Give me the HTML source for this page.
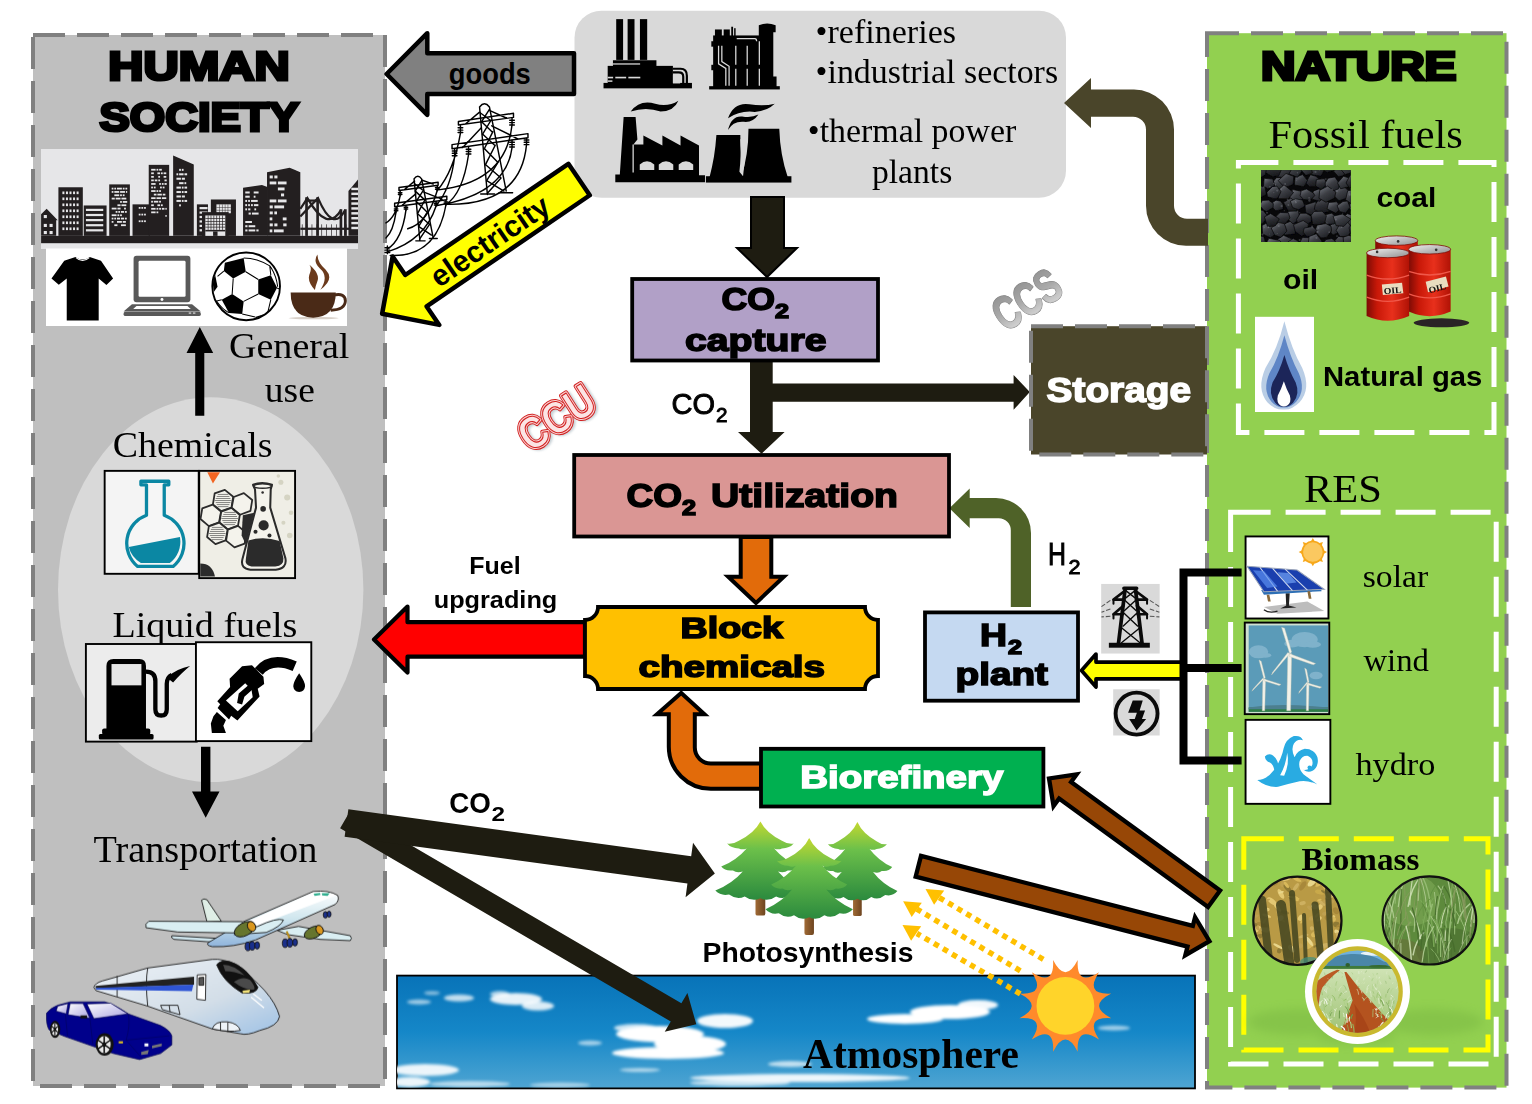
<!DOCTYPE html>
<html lang="en">
<head>
<meta charset="utf-8">
<title>CO2 capture, storage and utilization cycle</title>
<style>
html,body{margin:0;padding:0;background:#fff;}
body{width:1532px;height:1104px;overflow:hidden;position:relative;}
svg{position:absolute;left:0;top:0;display:block;}
.serif{font-family:"Liberation Serif",serif;}
.sans{font-family:"Liberation Sans",sans-serif;}
.blk{font-family:"Liberation Sans",sans-serif;font-weight:bold;stroke-linejoin:round;}
.cal{font-family:"Liberation Sans",sans-serif;font-weight:bold;}
</style>
</head>
<body>
<svg width="1532" height="1104" viewBox="0 0 1532 1104">
<rect x="0" y="0" width="1532" height="1104" fill="#ffffff"/>
<!-- ===== big panels ===== -->
<g id="panels">
<rect x="33" y="35" width="352" height="1051" fill="#bfbfbf" stroke="#808080" stroke-width="4" stroke-dasharray="32 12"/>
<ellipse cx="210.700" cy="589.700" rx="152.700" ry="192.400" fill="#d9d9d9"/>
<rect x="1207" y="33.200" width="299.500" height="1054.400" fill="#92d050" stroke="#808080" stroke-width="4" stroke-dasharray="32 12"/>
<rect x="574.500" y="10.700" width="491.500" height="187" rx="27" ry="27" fill="#d9d9d9"/>
<!-- white dashed frames in nature -->
<rect x="1238.400" y="162.600" width="255.600" height="269.800" fill="none" stroke="#ffffff" stroke-width="5" stroke-dasharray="40 15"/>
<rect x="1230.600" y="512.300" width="265.600" height="551.700" fill="none" stroke="#ffffff" stroke-width="5" stroke-dasharray="40 15"/>
<rect x="1243.800" y="838.700" width="244.200" height="211.300" fill="none" stroke="#ffff00" stroke-width="5" stroke-dasharray="40 15"/>
</g>
<!-- ===== arrows ===== -->
<g id="arrows">
<!-- goods arrow -->
<path d="M574 53.300 H427.300 V33.200 L386.600 74 L427.300 114.800 V93.900 H574 Z" fill="#808080" stroke="#000" stroke-width="4.500" stroke-linejoin="round"/>
<text class="cal" x="448.800" y="84.300" font-size="30" textLength="82" lengthAdjust="spacingAndGlyphs" fill="#000">goods</text>
<!-- fossil fuels S arrow -->
<path d="M1208 218.800 H1187 A13 13 0 0 1 1174 205.800 V129.600 A40 40 0 0 0 1134 89.600 H1091 V78 L1064 103 L1091 128 V116.700 H1133 A13 13 0 0 1 1146 129.700 V205.800 A40 40 0 0 0 1186 245.800 H1208 Z" fill="#4a452a"/>
<!-- industry -> capture -->
<path d="M751 197 H784 V248 H797 L767 277 L737 248 H751 Z" fill="#1e1c11" stroke="#000" stroke-width="2"/>
<!-- capture -> utilization + storage -->
<path d="M750 361 H772.700 V383.400 H1013.600 V375 L1029.800 392 L1013.600 409.800 V401.800 H772.700 V432 H784.600 L761.500 453.800 L738 432 H750 Z" fill="#1e1c11"/>
<!-- utilization -> block chemicals -->
<path d="M740.700 537 V576.800 H728.200 L756 603 L783.800 576.800 H771.300 V537 Z" fill="#e26b0a" stroke="#000" stroke-width="4" stroke-linejoin="miter"/>
<!-- red arrow -->
<path d="M585 622.200 H407.500 V606.500 L374 639.500 L407.500 672.500 V656.700 H585 Z" fill="#ff0000" stroke="#000" stroke-width="4.200" stroke-linejoin="round"/>
<!-- green H2 arrow -->
<path d="M1010.800 607 V530.300 A12 12 0 0 0 998.800 518.300 H969.700 V528 L949.400 508.200 L969.700 488.400 V498 H996 A35 35 0 0 1 1031 533 V607 Z" fill="#4f6228"/>
<!-- yellow RES arrow -->
<path d="M1183 662.100 H1096 V654 L1081.500 670.500 L1096 687 V678.900 H1183 Z" fill="#ffff00" stroke="#000" stroke-width="3.700" stroke-linejoin="round"/>
<!-- bracket -->
<path d="M1241.600 572.400 H1183.500 V760.500 H1241.600 M1183.500 668.100 H1241.600" fill="none" stroke="#000" stroke-width="8"/>
<!-- biorefinery -> block chemicals -->
<path d="M761 763.600 H710.800 A16 16 0 0 1 694.800 747.600 V714.300 H704.500 L681.200 693 L657 714.300 H668.800 V746.800 A42 42 0 0 0 710.800 788.800 H761 Z" fill="#e26b0a" stroke="#000" stroke-width="4" stroke-linejoin="miter"/>
</g>
<!-- ===== electricity arrow + pylons ===== -->
<g id="pylons" transform="translate(370,20) scale(0.28986)" fill="none" stroke="#000" stroke-width="5" stroke-linecap="round" stroke-linejoin="round">
<!-- big pylon -->
<path d="M378 300 Q395 278 412 300 L470 590 M378 300 L405 602 M382 600 H430 M445 596 H492"/>
<path d="M380 320 L414 345 M412 308 L384 352 M386 352 L420 385 M418 345 L388 395 M390 395 L430 432 M424 385 L394 445 M396 445 L440 490 M432 432 L398 500 M400 500 L452 545 M442 490 L402 555 M404 555 L462 590 M452 545 L405 598"/>
<path d="M305 350 L495 322 M305 362 L495 336 M305 350 V362 M495 322 V336 M330 358 L378 318 M470 338 L412 312 M283 430 L545 392 M283 444 L545 406 M283 430 V444 M545 392 V406 M320 440 L384 372 M510 410 L420 365"/>
<path d="M312 365 V388 M304 372 H320 M304 380 H320 M304 388 H320 M490 338 V360 M482 346 H498 M482 354 H498 M482 362 H498 M292 446 V470 M284 452 H300 M284 460 H300 M284 468 H300 M340 440 V462 M332 446 H348 M332 454 H348 M332 462 H348 M490 415 V438 M482 422 H498 M482 430 H498 M482 438 H498 M540 408 V430 M532 414 H548 M532 422 H548 M532 430 H548"/>
<!-- small pylon -->
<path d="M152 548 Q165 530 178 548 L218 752 M152 548 L172 760 M158 762 H190 M205 754 H232"/>
<path d="M154 565 L180 585 M178 555 L156 590 M158 592 L186 618 M184 588 L160 625 M162 628 L194 660 M190 620 L164 668 M166 670 L202 702 M198 662 L168 712 M170 714 L212 742 M206 704 L171 756"/>
<path d="M100 578 L235 560 M100 588 L235 570 M100 578 V588 M235 560 V570 M85 632 L265 608 M85 644 L265 620 M85 632 V644 M265 608 V620 M120 584 L154 556 M218 566 L178 552 M110 640 L158 600 M248 618 L186 594"/>
<path d="M104 590 V606 M98 596 H110 M98 602 H110 M232 572 V588 M226 578 H238 M226 584 H238 M90 646 V662 M84 652 H96 M84 658 H96 M124 640 V656 M118 646 H130 M118 652 H130 M228 626 V642 M222 632 H234 M222 638 H234 M262 622 V638 M256 628 H268 M256 634 H268"/>
<!-- wires -->
<path d="M312 390 Q290 520 232 588 M292 470 Q280 580 228 640 M340 464 Q320 600 262 636 M490 362 Q470 560 236 586 M490 440 Q470 600 232 640 M540 430 Q520 640 264 636"/>
<path d="M104 606 Q90 680 55 700 M90 662 Q80 730 55 752 M124 656 Q110 760 60 790 M228 642 Q190 760 60 800 M262 638 Q230 820 70 812 M232 588 Q200 700 130 720"/>
<path d="M60 780 V806 M52 786 H68 M52 794 H68 M52 802 H68"/>
</g>
<g transform="translate(580.900,178.300) rotate(145.730)">
<path d="M2.200 -19 H199.600 V-41.400 L240.500 0 L199.600 41.400 V19 H2.200 Z" fill="#ffff00" stroke="#000" stroke-width="4.500" stroke-linejoin="round"/>
</g>
<g transform="translate(491.700,243.800) rotate(-34.270)">
<text class="cal" x="0" y="7" font-size="30" text-anchor="middle" textLength="137" lengthAdjust="spacingAndGlyphs" fill="#000">electricity</text>
</g>
<!-- ===== atmosphere, CO2 arrows, brown arrows ===== -->
<defs>
<linearGradient id="sky" x1="0" x2="0" y1="0" y2="1"><stop offset="0" stop-color="#0873b8"/><stop offset="0.500" stop-color="#1587c8"/><stop offset="1" stop-color="#4fa5d2"/></linearGradient>
<filter id="blur3" x="-20%" y="-50%" width="140%" height="200%"><feGaussianBlur stdDeviation="1.800"/></filter>
<filter id="blur6" x="-20%" y="-50%" width="140%" height="200%"><feGaussianBlur stdDeviation="5"/></filter>
<clipPath id="skyclip"><rect x="397" y="975.500" width="798" height="112.500"/></clipPath>
</defs>
<rect x="397" y="975.600" width="798" height="112.800" fill="url(#sky)" stroke="#000" stroke-width="1.800"/>
<g clip-path="url(#skyclip)" fill="#ffffff" filter="url(#blur3)">
<ellipse cx="419" cy="1002" rx="12" ry="2.500" opacity="0.600"/>
<ellipse cx="459" cy="998" rx="15" ry="3.500" opacity="0.750"/>
<ellipse cx="432" cy="993" rx="8" ry="2" opacity="0.500"/>
<ellipse cx="516" cy="999" rx="26" ry="6" opacity="0.900"/>
<ellipse cx="538" cy="1006" rx="16" ry="4.500" opacity="0.850"/>
<ellipse cx="500" cy="994" rx="10" ry="3" opacity="0.700"/>
<ellipse cx="725" cy="1021" rx="28" ry="7" opacity="0.950"/>
<ellipse cx="660" cy="1034" rx="44" ry="8"/>
<ellipse cx="690" cy="1044" rx="36" ry="8"/>
<ellipse cx="668" cy="1053" rx="56" ry="6"/>
<ellipse cx="636" cy="1028" rx="22" ry="4" opacity="0.800"/>
<ellipse cx="590" cy="1043" rx="12" ry="2.500" opacity="0.600"/>
<ellipse cx="905" cy="1019" rx="38" ry="5"/>
<ellipse cx="950" cy="1012" rx="40" ry="7"/>
<ellipse cx="978" cy="1005" rx="20" ry="5" opacity="0.950"/>
<ellipse cx="425" cy="1070" rx="34" ry="6" opacity="0.900"/>
<ellipse cx="410" cy="1082" rx="20" ry="5" opacity="0.900"/>
<ellipse cx="470" cy="1084" rx="40" ry="3" opacity="0.600"/>
<ellipse cx="800" cy="1078" rx="110" ry="4" opacity="0.900"/>
<ellipse cx="740" cy="1083" rx="50" ry="3" opacity="0.700"/>
<ellipse cx="790" cy="1064" rx="22" ry="3" opacity="0.700"/>
<ellipse cx="640" cy="1070" rx="20" ry="2" opacity="0.600"/>
<ellipse cx="1114" cy="1028" rx="16" ry="2.500" opacity="0.600"/>
<ellipse cx="560" cy="1085" rx="30" ry="2.500" opacity="0.500"/>
</g>
<!-- CO2 arrows from transportation -->
<g fill="#1e1c11">
<g transform="translate(345.400,819.100) rotate(30.300)"><path d="M0 -10.500 H383 V-22.500 L406.400 0 L383 22.500 V10.500 H0 Z"/></g>
<g transform="translate(346.500,823) rotate(7.790)"><path d="M0 -13.800 H346 V-27.500 L371.800 0 L346 27.500 V13.800 H0 Z"/></g>
</g>
<text class="cal" x="449.200" y="813.100" font-size="30" textLength="41.600" lengthAdjust="spacingAndGlyphs" fill="#000">CO</text>
<text class="cal" x="491.500" y="821" font-size="20" textLength="13.500" lengthAdjust="spacingAndGlyphs" fill="#000">2</text>
<!-- brown arrows -->
<g fill="#974706" stroke="#000" stroke-width="4.300" stroke-linejoin="miter">
<g transform="translate(1215.700,900) rotate(-143.900)"><path d="M2 -10.200 H186.400 V-19.600 L206.300 0 L186.400 19.600 V10.200 H2 Z"/></g>
<g transform="translate(916.400,865.800) rotate(14.430)"><path d="M2 -10.700 H282.700 V-19.600 L302.600 0 L282.700 19.600 V10.700 H2 Z"/></g>
</g>
<!-- ===== process boxes ===== -->
<g id="boxes" stroke="#000" stroke-width="3.8">
<rect x="632.200" y="279" width="245.800" height="81.500" fill="#b1a0c7"/>
<rect x="574.200" y="455" width="374.800" height="81.500" fill="#da9694"/>
<path d="M598 607 H865 A13 13 0 0 0 878 620 V676 A13 13 0 0 0 865 689 H598 A13 13 0 0 0 585 676 V620 A13 13 0 0 0 598 607 Z" fill="#ffc000"/>
<rect x="925" y="612.400" width="153" height="88.300" fill="#c5d9f1"/>
<rect x="761" y="748.800" width="282.400" height="57.700" fill="#00b050"/>
</g>
<rect x="1031" y="326.200" width="176" height="128.300" fill="#4a452a" stroke="#808080" stroke-width="4" stroke-dasharray="32 12"/>
<g id="boxtext" class="blk" fill="#000" stroke="#000" stroke-width="1.600" style="stroke-linejoin:miter;stroke-miterlimit:3">
<text x="721.600" y="310.400" font-size="32" textLength="53.500" lengthAdjust="spacingAndGlyphs">CO</text>
<text x="775" y="318" font-size="21" textLength="14" lengthAdjust="spacingAndGlyphs">2</text>
<text x="685" y="350.600" font-size="32" textLength="141.500" lengthAdjust="spacingAndGlyphs">capture</text>
<text x="626.600" y="507" font-size="33.500" textLength="55.500" lengthAdjust="spacingAndGlyphs">CO</text>
<text x="682" y="515" font-size="22" textLength="14" lengthAdjust="spacingAndGlyphs">2</text>
<text x="711" y="507" font-size="33.500" textLength="187" lengthAdjust="spacingAndGlyphs">Utilization</text>
<text x="680.500" y="638.200" font-size="29.500" textLength="102.500" lengthAdjust="spacingAndGlyphs">Block</text>
<text x="638.500" y="677.300" font-size="29.500" textLength="186.500" lengthAdjust="spacingAndGlyphs">chemicals</text>
<text x="980" y="646.300" font-size="32" textLength="27" lengthAdjust="spacingAndGlyphs">H</text>
<text x="1008" y="654" font-size="21" textLength="14" lengthAdjust="spacingAndGlyphs">2</text>
<text x="955.500" y="685" font-size="32" textLength="92.500" lengthAdjust="spacingAndGlyphs">plant</text>
</g>
<g class="blk" fill="#fff" stroke="#fff" stroke-width="1.500" style="stroke-linejoin:miter;stroke-miterlimit:3">
<text x="800.300" y="788" font-size="31" textLength="203" lengthAdjust="spacingAndGlyphs">Biorefinery</text>
<text x="1046.600" y="401.700" font-size="34.500" textLength="144.500" lengthAdjust="spacingAndGlyphs">Storage</text>
</g>
<!-- ===== city skyline ===== -->
<g id="city">
<rect x="41" y="149" width="317" height="100" fill="#e6e6e8"/>
<rect x="41.1" y="235.87" width="316.91" height="7.32" fill="#231f20"/>
<polygon points="41.1,214.35 46.64,208.8 57.74,220.34 56.19,220.34 56.19,235.87 41.1,235.87" fill="#231f20"/>
<rect x="43.76" y="215.01" width="3.11" height="3.11" fill="#e6e6e8"/>
<rect x="43.76" y="223.89" width="3.11" height="3.11" fill="#e6e6e8"/>
<rect x="49.53" y="223.89" width="3.11" height="3.11" fill="#e6e6e8"/>
<rect x="43.76" y="230.99" width="3.11" height="3.11" fill="#e6e6e8"/>
<rect x="49.53" y="230.99" width="3.11" height="3.11" fill="#e6e6e8"/>
<rect x="58.41" y="187.27" width="24.41" height="48.6" fill="#231f20"/>
<rect x="62.4" y="191.49" width="2.0" height="2.66" fill="#e6e6e8"/>
<rect x="65.95" y="191.49" width="2.0" height="2.66" fill="#e6e6e8"/>
<rect x="69.5" y="191.49" width="2.0" height="2.66" fill="#e6e6e8"/>
<rect x="73.05" y="191.49" width="2.0" height="2.66" fill="#e6e6e8"/>
<rect x="76.6" y="191.49" width="2.0" height="2.66" fill="#e6e6e8"/>
<rect x="62.4" y="197.48" width="2.0" height="2.66" fill="#e6e6e8"/>
<rect x="65.95" y="197.48" width="2.0" height="2.66" fill="#e6e6e8"/>
<rect x="69.5" y="197.48" width="2.0" height="2.66" fill="#e6e6e8"/>
<rect x="73.05" y="197.48" width="2.0" height="2.66" fill="#e6e6e8"/>
<rect x="76.6" y="197.48" width="2.0" height="2.66" fill="#e6e6e8"/>
<rect x="62.4" y="203.47" width="2.0" height="2.66" fill="#e6e6e8"/>
<rect x="65.95" y="203.47" width="2.0" height="2.66" fill="#e6e6e8"/>
<rect x="69.5" y="203.47" width="2.0" height="2.66" fill="#e6e6e8"/>
<rect x="73.05" y="203.47" width="2.0" height="2.66" fill="#e6e6e8"/>
<rect x="76.6" y="203.47" width="2.0" height="2.66" fill="#e6e6e8"/>
<rect x="62.4" y="209.46" width="2.0" height="2.66" fill="#e6e6e8"/>
<rect x="65.95" y="209.46" width="2.0" height="2.66" fill="#e6e6e8"/>
<rect x="69.5" y="209.46" width="2.0" height="2.66" fill="#e6e6e8"/>
<rect x="73.05" y="209.46" width="2.0" height="2.66" fill="#e6e6e8"/>
<rect x="76.6" y="209.46" width="2.0" height="2.66" fill="#e6e6e8"/>
<rect x="62.4" y="215.45" width="2.0" height="2.66" fill="#e6e6e8"/>
<rect x="65.95" y="215.45" width="2.0" height="2.66" fill="#e6e6e8"/>
<rect x="69.5" y="215.45" width="2.0" height="2.66" fill="#e6e6e8"/>
<rect x="73.05" y="215.45" width="2.0" height="2.66" fill="#e6e6e8"/>
<rect x="76.6" y="215.45" width="2.0" height="2.66" fill="#e6e6e8"/>
<rect x="62.4" y="221.45" width="2.0" height="2.66" fill="#e6e6e8"/>
<rect x="65.95" y="221.45" width="2.0" height="2.66" fill="#e6e6e8"/>
<rect x="69.5" y="221.45" width="2.0" height="2.66" fill="#e6e6e8"/>
<rect x="73.05" y="221.45" width="2.0" height="2.66" fill="#e6e6e8"/>
<rect x="76.6" y="221.45" width="2.0" height="2.66" fill="#e6e6e8"/>
<rect x="62.4" y="227.44" width="2.0" height="2.66" fill="#e6e6e8"/>
<rect x="65.95" y="227.44" width="2.0" height="2.66" fill="#e6e6e8"/>
<rect x="69.5" y="227.44" width="2.0" height="2.66" fill="#e6e6e8"/>
<rect x="73.05" y="227.44" width="2.0" height="2.66" fill="#e6e6e8"/>
<rect x="76.6" y="227.44" width="2.0" height="2.66" fill="#e6e6e8"/>
<rect x="83.71" y="205.47" width="22.86" height="30.4" fill="#231f20"/>
<rect x="85.93" y="208.8" width="17.31" height="2.22" fill="#e6e6e8"/>
<rect x="85.93" y="213.9" width="17.31" height="2.22" fill="#e6e6e8"/>
<rect x="85.93" y="219.01" width="17.31" height="2.22" fill="#e6e6e8"/>
<rect x="85.93" y="224.11" width="17.31" height="2.22" fill="#e6e6e8"/>
<rect x="85.93" y="229.21" width="17.31" height="2.22" fill="#e6e6e8"/>
<rect x="109.23" y="184.39" width="20.64" height="51.49" fill="#231f20"/>
<rect x="111.67" y="187.71" width="1.78" height="1.78" fill="#e6e6e8"/>
<rect x="114.33" y="187.71" width="1.78" height="1.78" fill="#e6e6e8"/>
<rect x="117.0" y="187.71" width="4.88" height="1.78" fill="#e6e6e8"/>
<rect x="122.77" y="187.71" width="1.78" height="1.78" fill="#e6e6e8"/>
<rect x="125.43" y="187.71" width="1.78" height="1.78" fill="#e6e6e8"/>
<rect x="111.67" y="191.04" width="1.78" height="1.78" fill="#e6e6e8"/>
<rect x="114.33" y="191.04" width="4.88" height="1.78" fill="#e6e6e8"/>
<rect x="120.1" y="191.04" width="4.88" height="1.78" fill="#e6e6e8"/>
<rect x="125.87" y="191.04" width="1.33" height="1.78" fill="#e6e6e8"/>
<rect x="114.33" y="194.37" width="4.88" height="1.78" fill="#e6e6e8"/>
<rect x="120.1" y="194.37" width="1.78" height="1.78" fill="#e6e6e8"/>
<rect x="122.77" y="194.37" width="1.78" height="1.78" fill="#e6e6e8"/>
<rect x="111.67" y="197.7" width="3.11" height="1.78" fill="#e6e6e8"/>
<rect x="115.66" y="197.7" width="4.88" height="1.78" fill="#e6e6e8"/>
<rect x="121.43" y="197.7" width="4.88" height="1.78" fill="#e6e6e8"/>
<rect x="120.1" y="201.03" width="1.78" height="1.78" fill="#e6e6e8"/>
<rect x="122.77" y="201.03" width="4.44" height="1.78" fill="#e6e6e8"/>
<rect x="117.44" y="204.36" width="3.11" height="1.78" fill="#e6e6e8"/>
<rect x="121.43" y="204.36" width="4.88" height="1.78" fill="#e6e6e8"/>
<rect x="111.67" y="207.69" width="4.88" height="1.78" fill="#e6e6e8"/>
<rect x="117.44" y="207.69" width="3.11" height="1.78" fill="#e6e6e8"/>
<rect x="124.1" y="207.69" width="1.78" height="1.78" fill="#e6e6e8"/>
<rect x="115.66" y="211.02" width="1.78" height="1.78" fill="#e6e6e8"/>
<rect x="118.33" y="211.02" width="1.78" height="1.78" fill="#e6e6e8"/>
<rect x="120.99" y="211.02" width="3.11" height="1.78" fill="#e6e6e8"/>
<rect x="124.98" y="211.02" width="1.78" height="1.78" fill="#e6e6e8"/>
<rect x="111.67" y="214.35" width="4.88" height="1.78" fill="#e6e6e8"/>
<rect x="117.44" y="214.35" width="1.78" height="1.78" fill="#e6e6e8"/>
<rect x="120.1" y="214.35" width="1.78" height="1.78" fill="#e6e6e8"/>
<rect x="111.67" y="217.67" width="1.78" height="1.78" fill="#e6e6e8"/>
<rect x="114.33" y="217.67" width="1.78" height="1.78" fill="#e6e6e8"/>
<rect x="117.0" y="217.67" width="3.11" height="1.78" fill="#e6e6e8"/>
<rect x="120.99" y="217.67" width="3.11" height="1.78" fill="#e6e6e8"/>
<rect x="124.98" y="217.67" width="1.78" height="1.78" fill="#e6e6e8"/>
<rect x="111.67" y="221.0" width="1.78" height="1.78" fill="#e6e6e8"/>
<rect x="117.0" y="221.0" width="4.88" height="1.78" fill="#e6e6e8"/>
<rect x="122.77" y="221.0" width="3.11" height="1.78" fill="#e6e6e8"/>
<rect x="114.33" y="224.33" width="3.11" height="1.78" fill="#e6e6e8"/>
<rect x="120.99" y="224.33" width="4.88" height="1.78" fill="#e6e6e8"/>
<rect x="132.53" y="204.36" width="17.31" height="31.51" fill="#231f20"/>
<rect x="138.74" y="207.02" width="1.78" height="1.78" fill="#e6e6e8"/>
<rect x="141.41" y="207.02" width="1.78" height="1.78" fill="#e6e6e8"/>
<rect x="144.07" y="207.02" width="1.78" height="1.78" fill="#e6e6e8"/>
<rect x="138.74" y="213.68" width="1.78" height="1.78" fill="#e6e6e8"/>
<rect x="141.41" y="213.68" width="1.78" height="1.78" fill="#e6e6e8"/>
<rect x="144.07" y="213.68" width="1.78" height="1.78" fill="#e6e6e8"/>
<rect x="138.74" y="220.34" width="1.78" height="1.78" fill="#e6e6e8"/>
<rect x="141.41" y="220.34" width="1.78" height="1.78" fill="#e6e6e8"/>
<rect x="144.07" y="220.34" width="1.78" height="1.78" fill="#e6e6e8"/>
<rect x="148.73" y="164.86" width="20.42" height="71.02" fill="#231f20"/>
<rect x="151.17" y="168.85" width="4.44" height="1.78" fill="#e6e6e8"/>
<rect x="156.5" y="168.85" width="1.78" height="1.78" fill="#e6e6e8"/>
<rect x="159.16" y="168.85" width="2.66" height="1.78" fill="#e6e6e8"/>
<rect x="151.17" y="172.4" width="2.66" height="1.78" fill="#e6e6e8"/>
<rect x="157.39" y="172.4" width="2.66" height="1.78" fill="#e6e6e8"/>
<rect x="160.94" y="172.4" width="1.78" height="1.78" fill="#e6e6e8"/>
<rect x="163.6" y="172.4" width="2.66" height="1.78" fill="#e6e6e8"/>
<rect x="151.17" y="175.95" width="2.66" height="1.78" fill="#e6e6e8"/>
<rect x="158.27" y="175.95" width="1.78" height="1.78" fill="#e6e6e8"/>
<rect x="163.6" y="175.95" width="2.66" height="1.78" fill="#e6e6e8"/>
<rect x="151.17" y="179.5" width="2.66" height="1.78" fill="#e6e6e8"/>
<rect x="154.72" y="179.5" width="2.66" height="1.78" fill="#e6e6e8"/>
<rect x="158.27" y="179.5" width="1.78" height="1.78" fill="#e6e6e8"/>
<rect x="164.49" y="179.5" width="2.22" height="1.78" fill="#e6e6e8"/>
<rect x="151.17" y="183.05" width="4.44" height="1.78" fill="#e6e6e8"/>
<rect x="159.16" y="183.05" width="1.78" height="1.78" fill="#e6e6e8"/>
<rect x="161.82" y="183.05" width="1.78" height="1.78" fill="#e6e6e8"/>
<rect x="164.49" y="183.05" width="2.22" height="1.78" fill="#e6e6e8"/>
<rect x="151.17" y="186.6" width="1.78" height="1.78" fill="#e6e6e8"/>
<rect x="153.83" y="186.6" width="1.78" height="1.78" fill="#e6e6e8"/>
<rect x="160.05" y="186.6" width="1.78" height="1.78" fill="#e6e6e8"/>
<rect x="162.71" y="186.6" width="1.78" height="1.78" fill="#e6e6e8"/>
<rect x="151.17" y="190.16" width="4.44" height="1.78" fill="#e6e6e8"/>
<rect x="156.5" y="190.16" width="1.78" height="1.78" fill="#e6e6e8"/>
<rect x="159.16" y="190.16" width="1.78" height="1.78" fill="#e6e6e8"/>
<rect x="153.83" y="193.71" width="2.66" height="1.78" fill="#e6e6e8"/>
<rect x="157.39" y="193.71" width="4.44" height="1.78" fill="#e6e6e8"/>
<rect x="162.71" y="193.71" width="2.66" height="1.78" fill="#e6e6e8"/>
<rect x="151.17" y="197.26" width="4.44" height="1.78" fill="#e6e6e8"/>
<rect x="156.5" y="197.26" width="4.44" height="1.78" fill="#e6e6e8"/>
<rect x="161.82" y="197.26" width="4.44" height="1.78" fill="#e6e6e8"/>
<rect x="151.17" y="200.81" width="1.78" height="1.78" fill="#e6e6e8"/>
<rect x="153.83" y="200.81" width="4.44" height="1.78" fill="#e6e6e8"/>
<rect x="159.16" y="200.81" width="1.78" height="1.78" fill="#e6e6e8"/>
<rect x="151.17" y="204.36" width="2.66" height="1.78" fill="#e6e6e8"/>
<rect x="157.39" y="204.36" width="2.66" height="1.78" fill="#e6e6e8"/>
<rect x="160.94" y="204.36" width="1.78" height="1.78" fill="#e6e6e8"/>
<rect x="151.17" y="207.91" width="4.44" height="1.78" fill="#e6e6e8"/>
<rect x="156.5" y="207.91" width="1.78" height="1.78" fill="#e6e6e8"/>
<rect x="159.16" y="207.91" width="1.78" height="1.78" fill="#e6e6e8"/>
<rect x="161.82" y="207.91" width="2.66" height="1.78" fill="#e6e6e8"/>
<rect x="165.38" y="207.91" width="1.33" height="1.78" fill="#e6e6e8"/>
<rect x="151.17" y="211.46" width="4.44" height="1.78" fill="#e6e6e8"/>
<rect x="156.5" y="211.46" width="1.78" height="1.78" fill="#e6e6e8"/>
<rect x="165.38" y="215.01" width="1.33" height="1.78" fill="#e6e6e8"/>
<polygon points="173.14,155.53 193.78,164.41 193.78,235.87 173.14,235.87" fill="#231f20"/>
<rect x="179.13" y="168.85" width="1.78" height="2.0" fill="#e6e6e8"/>
<rect x="181.8" y="168.85" width="1.78" height="2.0" fill="#e6e6e8"/>
<rect x="176.47" y="173.29" width="1.78" height="2.0" fill="#e6e6e8"/>
<rect x="179.13" y="173.29" width="4.44" height="2.0" fill="#e6e6e8"/>
<rect x="184.46" y="173.29" width="2.66" height="2.0" fill="#e6e6e8"/>
<rect x="176.47" y="177.73" width="4.44" height="2.0" fill="#e6e6e8"/>
<rect x="181.8" y="177.73" width="3.11" height="2.0" fill="#e6e6e8"/>
<rect x="179.13" y="182.17" width="4.44" height="2.0" fill="#e6e6e8"/>
<rect x="184.46" y="182.17" width="1.78" height="2.0" fill="#e6e6e8"/>
<rect x="176.47" y="186.6" width="4.44" height="2.0" fill="#e6e6e8"/>
<rect x="181.8" y="186.6" width="1.78" height="2.0" fill="#e6e6e8"/>
<rect x="184.46" y="186.6" width="2.66" height="2.0" fill="#e6e6e8"/>
<rect x="176.47" y="191.04" width="4.44" height="2.0" fill="#e6e6e8"/>
<rect x="181.8" y="191.04" width="1.78" height="2.0" fill="#e6e6e8"/>
<rect x="184.46" y="191.04" width="2.66" height="2.0" fill="#e6e6e8"/>
<rect x="176.47" y="195.48" width="4.44" height="2.0" fill="#e6e6e8"/>
<rect x="181.8" y="195.48" width="3.11" height="2.0" fill="#e6e6e8"/>
<rect x="176.47" y="199.92" width="4.44" height="2.0" fill="#e6e6e8"/>
<rect x="181.8" y="199.92" width="1.78" height="2.0" fill="#e6e6e8"/>
<rect x="184.46" y="199.92" width="2.66" height="2.0" fill="#e6e6e8"/>
<rect x="179.13" y="204.36" width="1.78" height="2.0" fill="#e6e6e8"/>
<rect x="196.89" y="204.36" width="11.1" height="31.51" fill="#231f20"/>
<rect x="199.55" y="207.02" width="7.99" height="2.22" fill="#e6e6e8"/>
<rect x="199.55" y="211.46" width="7.99" height="2.22" fill="#e6e6e8"/>
<rect x="199.55" y="215.9" width="7.99" height="2.22" fill="#e6e6e8"/>
<rect x="199.55" y="220.34" width="7.99" height="2.22" fill="#e6e6e8"/>
<rect x="199.55" y="224.78" width="7.99" height="2.22" fill="#e6e6e8"/>
<rect x="199.55" y="229.21" width="7.99" height="2.22" fill="#e6e6e8"/>
<rect x="210.87" y="199.48" width="25.08" height="36.4" fill="#231f20"/>
<rect x="216.42" y="204.36" width="14.43" height="8.88" fill="#e6e6e8"/>
<rect x="219.08" y="204.36" width="0.44" height="8.88" fill="#231f20"/>
<rect x="221.97" y="204.36" width="0.44" height="8.88" fill="#231f20"/>
<rect x="224.85" y="204.36" width="0.44" height="8.88" fill="#231f20"/>
<rect x="227.74" y="204.36" width="0.44" height="8.88" fill="#231f20"/>
<rect x="216.42" y="207.02" width="14.43" height="0.44" fill="#231f20"/>
<rect x="216.42" y="209.91" width="14.43" height="0.44" fill="#231f20"/>
<rect x="201.99" y="212.13" width="26.63" height="23.75" fill="#231f20"/>
<rect x="205.32" y="215.45" width="19.97" height="20.42" fill="#e6e6e8"/>
<rect x="207.76" y="215.45" width="0.67" height="14.43" fill="#231f20"/>
<rect x="210.65" y="215.45" width="0.67" height="14.43" fill="#231f20"/>
<rect x="213.53" y="215.45" width="0.67" height="14.43" fill="#231f20"/>
<rect x="216.42" y="215.45" width="0.67" height="14.43" fill="#231f20"/>
<rect x="219.3" y="215.45" width="0.67" height="14.43" fill="#231f20"/>
<rect x="222.19" y="215.45" width="0.67" height="14.43" fill="#231f20"/>
<rect x="205.32" y="218.12" width="19.97" height="0.67" fill="#231f20"/>
<rect x="205.32" y="221.0" width="19.97" height="0.67" fill="#231f20"/>
<rect x="205.32" y="223.89" width="19.97" height="0.67" fill="#231f20"/>
<rect x="205.32" y="226.77" width="19.97" height="0.67" fill="#231f20"/>
<rect x="205.32" y="229.88" width="19.97" height="1.55" fill="#231f20"/>
<rect x="213.09" y="231.43" width="4.44" height="4.44" fill="#231f20"/>
<polygon points="243.05,187.71 261.91,185.05 267.46,187.05 267.46,235.87 243.05,235.87" fill="#231f20"/>
<rect x="245.27" y="191.49" width="4.44" height="2.0" fill="#e6e6e8"/>
<rect x="253.7" y="191.49" width="4.88" height="2.0" fill="#e6e6e8"/>
<rect x="245.27" y="195.7" width="4.44" height="2.0" fill="#e6e6e8"/>
<rect x="253.7" y="195.7" width="1.78" height="2.0" fill="#e6e6e8"/>
<rect x="245.27" y="199.92" width="1.78" height="2.0" fill="#e6e6e8"/>
<rect x="248.15" y="199.92" width="1.78" height="2.0" fill="#e6e6e8"/>
<rect x="251.04" y="199.92" width="6.66" height="2.0" fill="#e6e6e8"/>
<rect x="245.27" y="204.14" width="1.78" height="2.0" fill="#e6e6e8"/>
<rect x="248.15" y="204.14" width="1.78" height="2.0" fill="#e6e6e8"/>
<rect x="251.04" y="204.14" width="1.78" height="2.0" fill="#e6e6e8"/>
<rect x="253.92" y="204.14" width="4.44" height="2.0" fill="#e6e6e8"/>
<rect x="245.27" y="208.35" width="1.78" height="2.0" fill="#e6e6e8"/>
<rect x="248.15" y="208.35" width="2.22" height="2.0" fill="#e6e6e8"/>
<rect x="254.37" y="208.35" width="1.78" height="2.0" fill="#e6e6e8"/>
<rect x="248.6" y="212.57" width="2.22" height="2.0" fill="#e6e6e8"/>
<rect x="251.93" y="212.57" width="6.66" height="2.0" fill="#e6e6e8"/>
<rect x="245.27" y="221.0" width="6.66" height="2.0" fill="#e6e6e8"/>
<rect x="245.27" y="225.22" width="2.22" height="2.0" fill="#e6e6e8"/>
<rect x="248.6" y="225.22" width="6.66" height="2.0" fill="#e6e6e8"/>
<rect x="245.27" y="229.44" width="2.22" height="2.0" fill="#e6e6e8"/>
<rect x="248.6" y="229.44" width="6.66" height="2.0" fill="#e6e6e8"/>
<rect x="256.36" y="229.44" width="2.22" height="2.0" fill="#e6e6e8"/>
<polygon points="267.02,172.18 289.65,167.74 300.31,172.18 300.31,235.87 267.02,235.87" fill="#231f20"/>
<rect x="269.68" y="175.51" width="3.11" height="2.89" fill="#e6e6e8"/>
<rect x="274.34" y="175.51" width="3.11" height="2.89" fill="#e6e6e8"/>
<rect x="269.68" y="181.5" width="6.66" height="2.89" fill="#e6e6e8"/>
<rect x="277.89" y="181.5" width="8.66" height="2.89" fill="#e6e6e8"/>
<rect x="277.89" y="187.49" width="6.66" height="2.89" fill="#e6e6e8"/>
<rect x="281.0" y="193.48" width="3.11" height="2.89" fill="#e6e6e8"/>
<rect x="269.68" y="199.48" width="6.66" height="2.89" fill="#e6e6e8"/>
<rect x="277.89" y="199.48" width="8.66" height="2.89" fill="#e6e6e8"/>
<rect x="269.68" y="205.47" width="3.11" height="2.89" fill="#e6e6e8"/>
<rect x="274.34" y="205.47" width="9.76" height="2.89" fill="#e6e6e8"/>
<rect x="269.68" y="211.46" width="3.11" height="2.89" fill="#e6e6e8"/>
<rect x="274.34" y="211.46" width="2.66" height="2.89" fill="#e6e6e8"/>
<rect x="269.68" y="217.45" width="2.66" height="2.89" fill="#e6e6e8"/>
<rect x="282.77" y="217.45" width="3.77" height="2.89" fill="#e6e6e8"/>
<rect x="269.68" y="223.44" width="3.11" height="2.89" fill="#e6e6e8"/>
<rect x="274.34" y="223.44" width="3.11" height="2.89" fill="#e6e6e8"/>
<rect x="283.22" y="223.44" width="3.33" height="2.89" fill="#e6e6e8"/>
<rect x="269.68" y="229.44" width="2.66" height="2.89" fill="#e6e6e8"/>
<rect x="273.9" y="229.44" width="9.76" height="2.89" fill="#e6e6e8"/>
<rect x="305.19" y="197.26" width="2.66" height="38.62" fill="#231f20"/>
<rect x="316.28" y="197.26" width="2.66" height="38.62" fill="#231f20"/>
<rect x="339.59" y="209.24" width="2.66" height="26.63" fill="#231f20"/>
<rect x="344.03" y="209.24" width="2.66" height="26.63" fill="#231f20"/>
<rect x="300.31" y="227.66" width="49.27" height="2.22" fill="#231f20"/>
<rect x="305.19" y="199.48" width="13.32" height="2.22" fill="#231f20"/>
<path d="M300.31 208.8 Q303.41 204.36 307.41 198.14 Q327.38 233.21 341.14 209.91" fill="none" stroke="#231f20" stroke-width="2.200"/>
<path d="M300.31 216.56 Q309.63 206.58 318.06 198.14 Q332.93 233.21 345.14 209.91" fill="none" stroke="#231f20" stroke-width="2.200"/>
<rect x="301.86" y="224.33" width="0.67" height="11.54" fill="#231f20"/>
<rect x="306.74" y="224.33" width="0.67" height="11.54" fill="#231f20"/>
<rect x="311.62" y="224.33" width="0.67" height="11.54" fill="#231f20"/>
<rect x="316.51" y="224.33" width="0.67" height="11.54" fill="#231f20"/>
<rect x="321.39" y="224.33" width="0.67" height="11.54" fill="#231f20"/>
<rect x="326.27" y="224.33" width="0.67" height="11.54" fill="#231f20"/>
<rect x="331.15" y="224.33" width="0.67" height="11.54" fill="#231f20"/>
<rect x="336.04" y="224.33" width="0.67" height="11.54" fill="#231f20"/>
<rect x="340.92" y="224.33" width="0.67" height="11.54" fill="#231f20"/>
<rect x="345.8" y="224.33" width="0.67" height="11.54" fill="#231f20"/>
<polygon points="348.46,191.04 358.01,179.5 358.01,235.87 348.46,235.87" fill="#231f20"/>
<rect x="351.35" y="187.71" width="6.66" height="2.44" fill="#e6e6e8"/>
<rect x="351.35" y="192.6" width="6.66" height="2.44" fill="#e6e6e8"/>
<rect x="351.35" y="197.48" width="6.66" height="2.44" fill="#e6e6e8"/>
<rect x="351.35" y="202.36" width="6.66" height="2.44" fill="#e6e6e8"/>
<rect x="351.35" y="207.24" width="6.66" height="2.44" fill="#e6e6e8"/>
<rect x="351.35" y="212.13" width="6.66" height="2.44" fill="#e6e6e8"/>
<rect x="351.35" y="217.01" width="6.66" height="2.44" fill="#e6e6e8"/>
<rect x="351.35" y="221.89" width="6.66" height="2.44" fill="#e6e6e8"/>
<rect x="351.35" y="226.77" width="6.66" height="2.44" fill="#e6e6e8"/>
</g>
<!-- ===== general use items row ===== -->
<rect x="46" y="248.500" width="301" height="77.500" fill="#ffffff"/>
<g id="items" transform="translate(40,245) scale(0.20888)">
<!-- t-shirt -->
<path d="M170 58 Q204 82 238 58 L292 76 L350 160 L318 192 L281 160 L281 362 L128 362 L128 160 L90 190 L55 160 L116 76 Z" fill="#000"/>
<path d="M172 60 Q204 88 236 60" fill="none" stroke="#fff" stroke-width="5"/>
<!-- laptop -->
<rect x="448" y="52" width="272" height="222" rx="14" fill="#595959"/>
<rect x="472" y="76" width="225" height="172" rx="6" fill="#fff"/>
<circle cx="584" cy="261" r="7" fill="#fff"/>
<path d="M440 284 H728 L770 318 H400 Z" fill="#595959"/>
<path d="M462 292 H706 L722 306 H446 Z" fill="#fff"/>
<rect x="400" y="320" width="370" height="20" rx="9" fill="#595959"/>
<rect x="712" y="322" width="12" height="8" fill="#bbb"/><rect x="732" y="322" width="12" height="8" fill="#bbb"/>
<!-- soccer ball -->
<clipPath id="ballclip2"><circle cx="987" cy="198" r="160"/></clipPath>
<circle cx="987" cy="198" r="162" fill="#fff" stroke="#000" stroke-width="9"/>
<g fill="#000" clip-path="url(#ballclip2)">
<polygon points="885,85 975,62 985,128 925,160 880,125"/>
<polygon points="1045,165 1105,145 1135,205 1105,262 1045,235"/>
<polygon points="870,262 920,235 975,270 968,330 905,325"/>
<polygon points="1030,345 1090,325 1100,338 1040,358"/>
<polygon points="826,170 838,140 850,200 832,225"/>
</g>
<clipPath id="ballclip"><circle cx="987" cy="198" r="160"/></clipPath>
<g fill="none" stroke="#000" stroke-width="5" clip-path="url(#ballclip)">
<path d="M985 128 L1045 165 M1045 235 L975 270 M925 160 L920 235 M975 62 Q1040 62 1100 100 L1105 145 M1135 205 Q1148 215 1150 200 M1105 262 L1090 325 M968 330 L1030 345 M905 325 Q870 305 845 268 L870 262 M880 125 L850 150 M1100 100 Q1130 140 1138 200"/>
</g>
<!-- coffee -->
<ellipse cx="1310" cy="350" rx="120" ry="6" fill="#d8d0c8"/>
<path d="M1200 228 H1416 Q1416 345 1308 348 Q1200 345 1200 228 Z" fill="#4a2a17"/>
<path d="M1405 240 Q1462 228 1462 268 Q1460 310 1392 312" fill="none" stroke="#4a2a17" stroke-width="14"/>
<path d="M1316 215 Q1275 170 1292 135 Q1302 112 1290 95 Q1345 140 1326 180 Q1318 200 1316 215 Z" fill="#6b3a1c"/>
<path d="M1342 214 Q1385 150 1340 112 Q1305 80 1328 46 Q1330 88 1368 118 Q1412 165 1342 214 Z" fill="#6b3a1c"/>
</g>
<!-- ===== left panel text + thin arrows ===== -->
<g class="blk" fill="#000" stroke="#000" stroke-width="3.200" style="stroke-linejoin:miter;stroke-miterlimit:3">
<text x="108.300" y="80.300" font-size="41.500" textLength="181.500" lengthAdjust="spacingAndGlyphs">HUMAN</text>
<text x="99.500" y="131.200" font-size="41.500" textLength="199.500" lengthAdjust="spacingAndGlyphs">SOCIETY</text>
</g>
<g class="serif" fill="#000" font-size="36.500">
<text x="229.000" y="358" textLength="120.400" lengthAdjust="spacingAndGlyphs">General</text>
<text x="264.800" y="401.600" textLength="50.000" lengthAdjust="spacingAndGlyphs">use</text>
<text x="112.700" y="457" textLength="159.900" lengthAdjust="spacingAndGlyphs">Chemicals</text>
<text x="112.400" y="636.900" textLength="185.000" lengthAdjust="spacingAndGlyphs">Liquid fuels</text>
<text x="93.400" y="861.800" font-size="38" textLength="224.000" lengthAdjust="spacingAndGlyphs">Transportation</text>
</g>
<path d="M195.200 415.800 V353 H186.500 L199.800 327 L213.200 353 H204.300 V415.800 Z" fill="#000"/>
<path d="M201 746.700 H210.400 V791.600 H219.500 L205.700 817.700 L192 791.600 H201 Z" fill="#000"/>
<!-- ===== chemicals images ===== -->
<g id="flasks" transform="translate(40,320) scale(0.25355)">
<rect x="255" y="595" width="371" height="406" fill="#f4f4f4" stroke="#000" stroke-width="7.500"/>
<rect x="628" y="595" width="378" height="423" fill="#efeee6" stroke="#000" stroke-width="7.500"/>
<!-- teal round flask -->
<path d="M398 636 H508 V650 H490 V770 A118 118 0 0 1 525 972 H385 A118 118 0 0 1 420 770 V650 H398 Z" fill="#f6f6f6" stroke="#0b87a3" stroke-width="13" stroke-linejoin="round"/>
<path d="M350 895 L552 856 A105 105 0 0 1 512 958 H398 A105 105 0 0 1 350 895 Z" fill="#0b87a3"/>
<!-- erlenmeyer + hexagons -->
<polygon points="660,600 710,600 682,645" fill="#f26522"/>
<g fill="#f4f3ec" stroke="#2b2b2b" stroke-width="7" stroke-linejoin="round">
<polygon points="755,740 715,754 682,727 689,684 729,670 762,697"/>
<polygon points="830,753 789,768 756,740 764,698 804,683 837,710"/>
<polygon points="706,798 666,813 633,785 640,743 681,728 714,756"/>
<polygon points="781,811 741,826 708,798 715,756 755,741 788,769"/>
<polygon points="732,869 692,884 659,856 666,814 707,799 740,827"/>
<polygon points="807,882 767,897 734,870 741,827 781,812 814,840"/>
</g>
<g stroke="#444" stroke-width="2.500">
<path d="M701 688 H743 M697 696 H747 M693 704 H751 M689 712 H755 M693 720 H751 M697 728 H747 M701 736 H743"/>
<path d="M727 759 H769 M723 767 H773 M719 775 H777 M715 783 H781 M719 791 H777 M723 799 H773 M727 807 H769"/>
<path d="M678 818 H720 M674 826 H724 M670 834 H728 M666 842 H732 M670 850 H728 M674 858 H724 M678 866 H720"/>
</g>
<path d="M800 770 L845 760 L812 885 L795 850 Z" fill="#2b2b2b"/>
<path d="M840 650 Q875 636 915 650 L910 668 L908 740 L968 940 Q975 980 930 985 H830 Q790 980 798 945 L852 740 L848 668 Z" fill="#f4f3ec" stroke="#2b2b2b" stroke-width="8" stroke-linejoin="round"/>
<path d="M822 870 Q880 850 945 872 L960 940 Q962 970 928 972 H834 Q806 968 812 942 Z" fill="#2b2b2b"/>
<ellipse cx="878" cy="655" rx="36" ry="9" fill="none" stroke="#2b2b2b" stroke-width="6"/>
<circle cx="880" cy="745" r="11" fill="#2b2b2b"/><circle cx="882" cy="810" r="20" fill="#2b2b2b"/><circle cx="850" cy="835" r="8" fill="#2b2b2b"/><circle cx="905" cy="850" r="8" fill="#2b2b2b"/><circle cx="878" cy="680" r="5" fill="#2b2b2b"/>
<path d="M632 960 Q680 960 690 1012 H632 Z" fill="#2b2b2b"/>
<g fill="#d5d4c3"><circle cx="950" cy="640" r="10"/><circle cx="975" cy="700" r="12"/><circle cx="990" cy="760" r="9"/><circle cx="960" cy="800" r="8"/><circle cx="985" cy="850" r="11"/><circle cx="940" cy="615" r="7"/></g>
</g>
<!-- ===== liquid fuel images ===== -->
<g id="pumps" transform="translate(40,590) scale(0.25355)">
<rect x="181" y="213" width="437" height="385" fill="#ececec" stroke="#000" stroke-width="7.500"/>
<rect x="615" y="206" width="455" height="390" fill="#ffffff" stroke="#000" stroke-width="7.500"/>
<!-- pump 1 -->
<path d="M262 300 Q262 272 290 272 H392 Q418 272 418 300 V548 H262 Z" fill="#000"/>
<rect x="282" y="292" width="118" height="84" fill="#e6e6e6"/>
<rect x="245" y="546" width="190" height="26" rx="8" fill="#000"/>
<rect x="232" y="568" width="216" height="22" rx="6" fill="#000"/>
<path d="M418 322 Q455 322 455 360 V470 Q455 495 478 495 Q500 495 500 470 V370 Q500 345 520 335" fill="none" stroke="#000" stroke-width="17"/>
<path d="M500 345 Q540 310 592 300 Q560 325 525 365 Z" fill="#000"/>
<!-- pump 2 nozzle -->
<g transform="translate(591.600,177.500) scale(0.41083)" fill="#000">
<path d="M660 350 Q780 205 1005 300" fill="none" stroke="#000" stroke-width="100"/>
<polygon points="380,420 500,300 595,290 705,400 712,470 650,515 668,590 455,820 395,775 375,810 265,700 290,665 262,635 385,500"/>
<polygon points="530,462 345,628 458,732 602,598 590,522" fill="#fff"/>
<polygon points="560,482 468,562 452,652 500,668 522,592 600,522"/>
<polygon points="258,740 345,815 320,870 345,940 210,940 200,850 225,780"/>
<path d="M1048 368 Q1108 455 1104 495 Q1098 545 1048 547 Q998 545 992 495 Q988 455 1048 368 Z"/>
</g>
</g>
<!-- ===== transportation vehicles ===== -->
<defs>
<linearGradient id="trainb" x1="0" x2="1" y1="0" y2="1"><stop offset="0" stop-color="#eef3f8"/><stop offset="0.600" stop-color="#d3dee8"/><stop offset="1" stop-color="#9fc2e6"/></linearGradient>
<linearGradient id="planeb" x1="0" x2="0" y1="0" y2="1"><stop offset="0" stop-color="#ffffff"/><stop offset="0.500" stop-color="#cfe6ee"/><stop offset="1" stop-color="#8fb4dc"/></linearGradient>
<linearGradient id="carw" x1="0" x2="1" y1="0" y2="1"><stop offset="0" stop-color="#ffffff"/><stop offset="1" stop-color="#a9a3e0"/></linearGradient>
</defs>
<g id="vehicles" transform="translate(40,870) scale(0.21541)" stroke-linejoin="round">
<!-- plane -->
<g stroke="#111" stroke-width="4">
<path d="M1100 280 L1200 262 L1440 305 Q1452 318 1440 328 L1300 322 L1150 300 Z" fill="#d9eef2"/>
<path d="M750 140 Q760 130 775 138 L842 238 L775 240 Z" fill="#dfeee6"/>
<path d="M612 305 L830 318 L822 336 L622 322 Q605 315 612 305 Z" fill="#cfe6ee"/>
<path d="M940 242 L1268 100 Q1340 92 1382 118 Q1392 140 1370 160 L1000 325 Q900 360 800 356 Q770 350 780 338 Z" fill="url(#planeb)"/>
<path d="M948 244 L1270 104 Q1330 96 1375 118 L1000 262 Z" fill="#ffffff" stroke="none"/>
<path d="M940 240 L505 238 Q485 250 492 268 L640 288 L905 292 L1010 262 Q1100 220 1130 232 Q1120 262 1050 290 L900 300" fill="#d9eef2"/>
<ellipse cx="950" cy="275" rx="52" ry="30" transform="rotate(-28 950 275)" fill="#66752e"/>
<ellipse cx="982" cy="262" rx="18" ry="24" transform="rotate(-28 982 262)" fill="#d9971e"/>
<ellipse cx="1270" cy="290" rx="46" ry="26" transform="rotate(-25 1270 290)" fill="#66752e"/>
<ellipse cx="1298" cy="278" rx="16" ry="22" transform="rotate(-25 1298 278)" fill="#d9971e"/>
<path d="M1145 285 L1160 320" stroke="#b58a1a" stroke-width="9"/>
<g fill="#1a2f8a"><ellipse cx="965" cy="355" rx="13" ry="20"/><ellipse cx="985" cy="352" rx="13" ry="20"/><ellipse cx="1008" cy="350" rx="11" ry="17"/><ellipse cx="1138" cy="340" rx="13" ry="20"/><ellipse cx="1160" cy="338" rx="13" ry="20"/><ellipse cx="1184" cy="336" rx="11" ry="17"/><ellipse cx="1325" cy="208" rx="10" ry="15"/><ellipse cx="1342" cy="205" rx="9" ry="14"/></g>
</g>
<path d="M1270 110 L1300 106 L1302 116 L1275 120 Z M1308 108 L1345 108 L1335 120 L1310 118 Z" fill="#2fae8e"/>
<!-- train -->
<g stroke="#111" stroke-width="4">
<path d="M250 545 Q255 525 290 515 L500 455 L800 415 Q850 410 900 440 Q1080 560 1112 680 Q1105 725 1020 745 Q960 770 930 760 L800 738 L500 632 L260 560 Z" fill="url(#trainb)"/>
<path d="M800 738 Q810 700 870 705 Q920 712 930 745 Q880 755 800 738 Z" fill="#eef3f8"/>
<path d="M838 708 V746 M872 706 V752" fill="none"/>
<path d="M358 492 L358 588 M500 455 Q488 520 500 632" fill="none"/>
<path d="M560 628 H640 L650 672 L568 648 Z M600 630 L604 660" fill="none"/>
<path d="M730 487 L770 485 L768 605 L728 600 Z" fill="#ffffff"/>
<path d="M738 500 L760 498 L760 535 L738 535 Z" fill="#555"/>
<path d="M820 440 Q840 415 880 425 Q960 450 1012 545 Q1005 575 940 572 Q850 520 820 440 Z" fill="#111"/>
</g>
<path d="M850 440 Q900 440 950 490 Q900 470 860 470 Z M900 520 Q940 490 975 510 Q1000 540 995 555 Q950 560 900 520 Z" fill="#4a4a4a"/>
<path d="M940 560 L975 556 L972 570 L942 572 Z" fill="#f2e27a"/>
<path d="M258 538 L715 495 L715 532 L258 550 Z" fill="#222"/>
<path d="M258 548 L712 532 L705 562 L262 556 Z" fill="#2f55d4"/>
<path d="M980 590 L1040 640 M990 575 L1030 605" stroke="#ffffff" stroke-width="6" fill="none"/>
<!-- car -->
<g stroke="#00004d" stroke-width="3">
<path d="M30 665 Q50 640 82 628 L140 612 L300 612 Q340 620 410 668 L560 722 Q605 745 612 770 L612 812 L560 852 L462 880 L340 852 L112 772 L42 742 Q28 720 30 665 Z" fill="#00008b"/>
<path d="M218 622 L328 618 L408 668 L250 690 Z" fill="url(#carw)"/>
<path d="M140 620 L200 620 L232 688 L130 672 Z" fill="url(#carw)"/>
<path d="M82 632 L130 620 L122 668 L75 655 Z" fill="url(#carw)"/>
<path d="M118 672 L128 772 M232 690 L245 808 M410 668 Q420 720 400 790 L470 870 M400 790 L600 770" fill="none" stroke="#000060"/>
</g>
<rect x="188" y="675" width="30" height="14" fill="#111"/>
<ellipse cx="300" cy="810" rx="42" ry="52" fill="#111"/><ellipse cx="298" cy="810" rx="30" ry="40" fill="#e8e8e8"/><ellipse cx="298" cy="810" rx="9" ry="12" fill="#111"/>
<path d="M298 770 V850 M270 790 L326 830 M270 830 L326 790" stroke="#111" stroke-width="7"/>
<ellipse cx="70" cy="740" rx="24" ry="40" fill="#111"/><ellipse cx="69" cy="740" rx="15" ry="29" fill="#e8e8e8"/><ellipse cx="69" cy="740" rx="5" ry="9" fill="#111"/>
<path d="M69 712 V768 M56 726 L82 754 M56 754 L82 726" stroke="#111" stroke-width="5"/>
<rect x="365" y="795" width="20" height="10" fill="#e0c020"/><rect x="485" y="805" width="18" height="14" fill="#ffffff"/><path d="M520 815 L565 805 L565 818 L520 828 Z" fill="#777"/><path d="M470 845 L505 835 L500 855 L470 858 Z" fill="#777"/>
</g>
<!-- ===== industry icons + bullet text ===== -->
<g id="industry" transform="translate(570,5) scale(0.18119)" fill="#000">
<!-- factory with three chimneys -->
<rect x="255" y="78" width="38" height="225"/><rect x="318" y="78" width="38" height="225"/><rect x="386" y="78" width="40" height="225"/>
<rect x="237" y="305" width="240" height="36"/>
<rect x="208" y="336" width="360" height="104"/>
<rect x="185" y="430" width="488" height="30"/>
<path d="M568 352 H610 Q645 352 645 390 V432 M568 372 H600 Q625 372 625 396 V432" fill="none" stroke="#000" stroke-width="12"/>
<rect x="568" y="385" width="40" height="48" fill="#d9d9d9"/>
<g fill="#d9d9d9"><rect x="237" y="322" width="150" height="7"/><rect x="208" y="396" width="30" height="9"/><rect x="250" y="396" width="60" height="9"/><rect x="322" y="396" width="66" height="9"/><rect x="208" y="416" width="26" height="8"/></g>
<!-- refinery -->
<rect x="790" y="168" width="255" height="290"/>
<rect x="800" y="135" width="38" height="40"/><rect x="848" y="135" width="34" height="40"/><rect x="890" y="120" width="10" height="60"/><rect x="906" y="128" width="8" height="50"/>
<path d="M1042 112 Q1088 92 1135 112 V150 H1122 V395 H1140 V458 H1042 Z"/>
<rect x="768" y="448" width="390" height="18"/>
<rect x="780" y="200" width="14" height="30"/><rect x="780" y="330" width="14" height="30"/>
<g fill="none" stroke="#d9d9d9" stroke-width="7"><path d="M820 225 V325 L860 350 V445 M838 225 V312 L878 338 V445 M915 225 V330 M915 352 V445 M978 225 V330 M978 352 V445 M1045 200 V330 M1045 352 V445 M920 185 H1020 Q1030 185 1030 200"/></g>
<!-- factory with smoke -->
<path d="M296 618 H362 L372 742 L350 770 H405 V720 L510 775 V720 L610 775 V720 L712 775 V940 H745 V978 H250 V935 H275 Z"/>
<path d="M335 588 Q385 520 470 545 Q540 565 598 528 Q575 585 500 588 Q420 560 335 588 Z"/>
<g fill="#d9d9d9"><path d="M385 910 V880 Q425 845 465 880 V910 Z"/><path d="M490 910 V880 Q530 845 570 880 V910 Z"/><path d="M600 910 V880 Q640 845 680 880 V910 Z"/><path d="M345 770 L352 770 L352 925 L345 925 Z"/></g>
<!-- cooling towers -->
<path d="M808 718 H940 Q940 840 962 950 H770 Q800 840 808 718 Z"/>
<path d="M985 683 H1155 Q1160 830 1202 950 H945 Q985 830 985 683 Z"/>
<path d="M940 740 Q945 840 935 920 L955 945 L975 760 Z" fill="#d9d9d9"/>
<rect x="750" y="945" width="472" height="35"/>
<path d="M872 625 Q905 535 990 548 Q1070 560 1130 545 Q1090 585 1020 590 Q940 580 872 625 Z"/>
<path d="M872 690 Q890 610 950 615 Q1000 625 1040 605 Q1010 650 960 645 Q900 640 872 690 Z"/>
</g>
<g class="serif" fill="#000" font-size="33">
<text x="815.600" y="43.400" textLength="140.400" lengthAdjust="spacingAndGlyphs">•refineries</text>
<text x="815.600" y="83" textLength="242.500" lengthAdjust="spacingAndGlyphs">•industrial sectors</text>
<text x="807.800" y="142.200" textLength="208.400" lengthAdjust="spacingAndGlyphs">•thermal power</text>
<text x="871.900" y="182.900" textLength="80.400" lengthAdjust="spacingAndGlyphs">plants</text>
</g>
<!-- ===== nature: titles and fossil fuels ===== -->
<g class="blk" fill="#000" stroke="#000" stroke-width="3.200" style="stroke-linejoin:miter;stroke-miterlimit:3">
<text x="1261" y="80.300" font-size="40" textLength="195.500" lengthAdjust="spacingAndGlyphs">NATURE</text>
</g>
<g class="serif" fill="#000">
<text x="1268.400" y="148" font-size="41" textLength="194.400" lengthAdjust="spacingAndGlyphs">Fossil fuels</text>
<text x="1304.000" y="502" font-size="41" textLength="78.000" lengthAdjust="spacingAndGlyphs">RES</text>
</g>
<g class="sans" font-weight="bold" fill="#000" font-size="28.300">
<text x="1376.400" y="206.500" textLength="59.800" lengthAdjust="spacingAndGlyphs">coal</text>
<text x="1283.000" y="289.200" textLength="35.200" lengthAdjust="spacingAndGlyphs">oil</text>
<text x="1323.000" y="386.400" textLength="159.300" lengthAdjust="spacingAndGlyphs">Natural gas</text>
</g>
<!-- gas flame -->
<rect x="1255" y="316.800" width="59" height="95.200" fill="#ffffff"/>
<g transform="translate(1230,150) scale(0.26267)">
<path d="M207 652 Q235 760 275 830 Q310 910 265 960 Q235 990 205 988 Q170 990 142 960 Q100 910 135 830 Q180 760 207 652 Z" fill="#b9cde5"/>
<path d="M207 705 Q230 790 262 850 Q290 915 252 958 Q230 982 205 980 Q180 982 158 958 Q122 915 150 850 Q185 790 207 705 Z" fill="#5f86c6"/>
<path d="M207 780 Q225 840 250 885 Q268 930 240 962 Q225 978 205 977 Q186 978 172 962 Q145 930 162 885 Q190 840 207 780 Z" fill="#1c2559"/>
<path d="M205 880 Q215 910 228 935 Q235 962 218 973 Q205 980 192 973 Q176 962 182 935 Q195 910 205 880 Z" fill="#ffffff"/>
</g>
<!-- oil barrels -->
<g transform="translate(1230,150) scale(0.26267)">
<defs>
<linearGradient id="bar" x1="0" x2="1" y1="0" y2="0"><stop offset="0" stop-color="#7d0b05"/><stop offset="0.250" stop-color="#c81808"/><stop offset="0.600" stop-color="#e8301c"/><stop offset="1" stop-color="#b01205"/></linearGradient>
<linearGradient id="lid" x1="0" x2="1" y1="0" y2="1"><stop offset="0" stop-color="#f2f2f2"/><stop offset="1" stop-color="#8e8e8e"/></linearGradient>
</defs>
<ellipse cx="805" cy="658" rx="106" ry="17" fill="#2a2426"/>
<path d="M553 345 V420 H715 V345 Z" fill="url(#bar)"/><ellipse cx="634" cy="345" rx="81" ry="18" fill="url(#lid)" stroke="#7d0b05" stroke-width="3"/>
<path d="M680 378 V615 Q760 650 840 615 V378 Z" fill="url(#bar)"/><ellipse cx="760" cy="378" rx="80" ry="18" fill="url(#lid)" stroke="#7d0b05" stroke-width="3"/>
<path d="M680 462 Q760 490 840 462 M680 548 Q760 578 840 548" fill="none" stroke="#f0584a" stroke-width="5"/>
<path d="M520 392 V632 Q600 668 682 632 V392 Z" fill="url(#bar)"/><ellipse cx="601" cy="392" rx="81" ry="18" fill="url(#lid)" stroke="#7d0b05" stroke-width="3"/>
<path d="M520 476 Q600 506 682 476 M520 560 Q600 592 682 560" fill="none" stroke="#f0584a" stroke-width="5"/>
<polygon points="578,512 655,505 660,545 582,552" fill="#e9dcc0"/>
<polygon points="745,502 822,482 832,520 754,542" fill="#e9dcc0"/>
<text x="585" y="546" font-size="34" font-weight="bold" font-family="Liberation Serif, serif" fill="#111" textLength="68" lengthAdjust="spacingAndGlyphs" transform="rotate(-5 618 530)">OIL</text>
<text x="752" y="538" font-size="34" font-weight="bold" font-family="Liberation Serif, serif" fill="#111" textLength="68" lengthAdjust="spacingAndGlyphs" transform="rotate(-15 788 515)">OIL</text>
<circle cx="640" cy="348" r="5" fill="#333"/><circle cx="785" cy="380" r="5" fill="#333"/><circle cx="560" cy="388" r="5" fill="#333"/>
</g>
<!-- ===== coal texture ===== -->
<g id="coal">
<defs><linearGradient id="lump" x1="0.1" y1="0" x2="0.8" y2="1"><stop offset="0" stop-color="#74777f"/><stop offset="0.45" stop-color="#3c3e44"/><stop offset="1" stop-color="#1c1d21"/></linearGradient>
<linearGradient id="lump2" x1="0.3" y1="0" x2="0.6" y2="1"><stop offset="0" stop-color="#54565d"/><stop offset="0.5" stop-color="#2c2d32"/><stop offset="1" stop-color="#17181b"/></linearGradient>
<filter id="blurc" x="-5%" y="-5%" width="110%" height="110%"><feGaussianBlur stdDeviation="0.45"/></filter>
<clipPath id="coalclip"><rect x="1261" y="170.2" width="89.8" height="71.8"/></clipPath></defs>
<rect x="1261" y="170.2" width="89.8" height="71.8" fill="#08080a"/>
<g clip-path="url(#coalclip)"><g filter="url(#blurc)">
<polygon points="1305.7,212.8 1304.9,205.0 1315.4,201.8 1319.2,207.7 1314.5,216.1" fill="url(#lump2)" stroke="#050506" stroke-width="0.7" stroke-linejoin="round"/>
<polygon points="1296.0,224.9 1295.3,234.1 1285.1,235.1 1280.1,230.5 1283.1,224.4 1291.8,220.7" fill="url(#lump)" stroke="#050506" stroke-width="0.7" stroke-linejoin="round"/>
<polygon points="1283.0,204.4 1283.3,209.3 1275.7,210.9 1272.7,207.5 1271.9,203.0 1276.0,200.2 1280.8,201.2" fill="url(#lump)" stroke="#050506" stroke-width="0.7" stroke-linejoin="round"/>
<polygon points="1293.0,223.9 1285.9,217.6 1288.2,211.2 1298.5,210.0 1299.7,219.2" fill="url(#lump)" stroke="#050506" stroke-width="0.7" stroke-linejoin="round"/>
<polygon points="1259.3,185.3 1265.2,187.8 1266.4,194.4 1260.2,198.1 1254.4,197.0 1252.6,190.2" fill="url(#lump2)" stroke="#050506" stroke-width="0.7" stroke-linejoin="round"/>
<polygon points="1321.1,176.3 1309.1,174.2 1305.9,167.8 1315.8,162.1 1324.9,168.5" fill="url(#lump)" stroke="#050506" stroke-width="0.7" stroke-linejoin="round"/>
<polygon points="1292.9,189.6 1301.3,191.2 1305.0,197.9 1293.3,203.8 1288.8,195.6" fill="url(#lump)" stroke="#050506" stroke-width="0.7" stroke-linejoin="round"/>
<polygon points="1338.6,236.3 1347.0,237.6 1349.2,245.3 1342.6,249.7 1336.1,249.0 1334.1,241.4" fill="url(#lump2)" stroke="#050506" stroke-width="0.7" stroke-linejoin="round"/>
<polygon points="1254.9,223.3 1250.8,216.3 1253.3,209.1 1263.2,210.4 1267.2,215.4 1266.0,219.2 1262.3,223.9" fill="url(#lump)" stroke="#050506" stroke-width="0.7" stroke-linejoin="round"/>
<polygon points="1332.9,235.1 1327.7,228.3 1334.9,220.8 1342.7,223.6 1340.4,231.8" fill="url(#lump)" stroke="#050506" stroke-width="0.7" stroke-linejoin="round"/>
<polygon points="1330.4,206.1 1328.7,211.7 1321.2,213.6 1314.3,209.5 1315.2,204.7 1319.1,198.7 1326.1,198.1" fill="url(#lump2)" stroke="#050506" stroke-width="0.7" stroke-linejoin="round"/>
<polygon points="1334.4,247.3 1330.8,248.5 1325.4,246.8 1324.1,241.8 1326.1,239.6 1331.9,238.5 1335.3,241.3" fill="url(#lump2)" stroke="#050506" stroke-width="0.7" stroke-linejoin="round"/>
<polygon points="1315.9,176.3 1321.2,180.8 1317.0,186.6 1309.7,186.9 1305.6,183.0 1310.4,174.7" fill="url(#lump2)" stroke="#050506" stroke-width="0.7" stroke-linejoin="round"/>
<polygon points="1268.5,200.1 1273.3,203.5 1273.1,207.6 1266.6,211.6 1263.9,210.4 1259.5,205.4 1262.3,200.5" fill="url(#lump)" stroke="#050506" stroke-width="0.7" stroke-linejoin="round"/>
<polygon points="1311.4,195.5 1313.6,190.9 1319.0,188.9 1325.1,193.8 1324.2,197.2 1319.6,201.3 1312.3,199.3" fill="url(#lump)" stroke="#050506" stroke-width="0.7" stroke-linejoin="round"/>
<polygon points="1343.6,160.8 1347.9,165.4 1349.1,170.8 1342.5,175.9 1338.2,176.6 1332.5,169.9 1335.0,164.4" fill="url(#lump)" stroke="#050506" stroke-width="0.7" stroke-linejoin="round"/>
<polygon points="1331.6,213.2 1336.8,217.1 1334.3,224.0 1326.6,224.5 1323.2,219.7 1325.3,214.8" fill="url(#lump)" stroke="#050506" stroke-width="0.7" stroke-linejoin="round"/>
<polygon points="1302.7,174.6 1307.5,180.4 1304.0,186.8 1294.4,185.0 1295.1,177.3" fill="url(#lump)" stroke="#050506" stroke-width="0.7" stroke-linejoin="round"/>
<polygon points="1275.0,187.9 1273.3,181.4 1276.4,177.7 1285.2,177.3 1286.4,183.4 1281.2,189.6" fill="url(#lump)" stroke="#050506" stroke-width="0.7" stroke-linejoin="round"/>
<polygon points="1283.5,235.3 1294.4,240.0 1291.5,247.1 1279.2,247.9 1275.2,241.0" fill="url(#lump)" stroke="#050506" stroke-width="0.7" stroke-linejoin="round"/>
<polygon points="1313.5,193.0 1314.8,195.6 1310.3,200.3 1303.6,199.5 1300.1,195.8 1301.2,190.8 1306.5,189.0" fill="url(#lump)" stroke="#050506" stroke-width="0.7" stroke-linejoin="round"/>
<polygon points="1297.7,224.3 1296.5,219.4 1300.3,213.3 1306.1,213.2 1311.2,216.2 1311.4,221.8 1304.7,225.7" fill="url(#lump2)" stroke="#050506" stroke-width="0.7" stroke-linejoin="round"/>
<polygon points="1363.4,210.2 1356.5,214.0 1351.7,212.1 1348.9,207.6 1350.5,200.9 1360.5,200.6 1364.2,202.7" fill="url(#lump)" stroke="#050506" stroke-width="0.7" stroke-linejoin="round"/>
<polygon points="1290.8,198.1 1298.2,204.2 1296.8,211.1 1288.1,211.1 1283.5,202.4" fill="url(#lump2)" stroke="#050506" stroke-width="0.7" stroke-linejoin="round"/>
<polygon points="1287.9,173.4 1289.3,164.9 1298.5,163.1 1303.9,168.7 1297.5,177.3" fill="url(#lump)" stroke="#050506" stroke-width="0.7" stroke-linejoin="round"/>
<polygon points="1282.5,164.0 1291.5,169.5 1286.5,178.0 1276.2,176.6 1275.8,167.0" fill="url(#lump)" stroke="#050506" stroke-width="0.7" stroke-linejoin="round"/>
<polygon points="1299.7,168.5 1304.0,163.3 1310.6,164.9 1312.4,173.1 1305.9,175.6" fill="url(#lump)" stroke="#050506" stroke-width="0.7" stroke-linejoin="round"/>
<polygon points="1328.7,202.5 1337.0,201.8 1341.3,208.4 1335.8,213.2 1327.0,209.0" fill="url(#lump)" stroke="#050506" stroke-width="0.7" stroke-linejoin="round"/>
<polygon points="1321.3,189.4 1315.5,186.1 1316.4,179.6 1324.4,178.6 1327.3,183.9" fill="url(#lump2)" stroke="#050506" stroke-width="0.7" stroke-linejoin="round"/>
<polygon points="1347.3,213.8 1358.9,216.5 1358.9,223.7 1346.8,228.0 1340.7,219.0" fill="url(#lump)" stroke="#050506" stroke-width="0.7" stroke-linejoin="round"/>
<polygon points="1340.0,236.6 1336.2,230.4 1340.3,223.1 1347.3,221.6 1352.9,229.1 1347.7,236.4" fill="url(#lump)" stroke="#050506" stroke-width="0.7" stroke-linejoin="round"/>
<polygon points="1278.2,180.6 1286.0,173.5 1293.8,176.4 1293.2,184.6 1284.9,187.7" fill="url(#lump)" stroke="#050506" stroke-width="0.7" stroke-linejoin="round"/>
<polygon points="1299.0,244.1 1302.3,237.6 1310.8,237.7 1314.5,245.6 1306.2,250.2" fill="url(#lump2)" stroke="#050506" stroke-width="0.7" stroke-linejoin="round"/>
<polygon points="1277.0,224.3 1275.9,216.5 1280.1,212.5 1288.4,212.8 1290.0,218.0 1284.2,224.9" fill="url(#lump2)" stroke="#050506" stroke-width="0.7" stroke-linejoin="round"/>
<polygon points="1327.0,172.7 1322.9,169.2 1325.7,163.4 1332.8,162.6 1335.3,170.0" fill="url(#lump2)" stroke="#050506" stroke-width="0.7" stroke-linejoin="round"/>
<polygon points="1272.9,179.1 1274.6,185.5 1267.9,189.0 1263.5,185.8 1264.2,178.3" fill="url(#lump)" stroke="#050506" stroke-width="0.7" stroke-linejoin="round"/>
<polygon points="1331.6,231.0 1326.4,237.7 1321.0,237.9 1314.8,231.0 1317.2,225.0 1325.9,223.6 1331.1,226.3" fill="url(#lump)" stroke="#050506" stroke-width="0.7" stroke-linejoin="round"/>
<polygon points="1357.4,246.9 1348.8,249.0 1343.7,245.5 1343.2,237.2 1348.6,235.4 1357.4,237.3" fill="url(#lump2)" stroke="#050506" stroke-width="0.7" stroke-linejoin="round"/>
<polygon points="1350.0,197.0 1339.1,200.8 1334.1,195.9 1333.7,188.1 1343.4,185.8 1348.6,190.9" fill="url(#lump)" stroke="#050506" stroke-width="0.7" stroke-linejoin="round"/>
<polygon points="1356.0,235.6 1350.3,233.5 1349.1,227.9 1352.3,222.8 1359.2,222.4 1364.5,228.5 1362.6,233.6" fill="url(#lump2)" stroke="#050506" stroke-width="0.7" stroke-linejoin="round"/>
<polygon points="1347.7,190.8 1355.6,189.2 1360.1,195.4 1359.2,201.9 1351.0,203.7 1345.6,199.8" fill="url(#lump)" stroke="#050506" stroke-width="0.7" stroke-linejoin="round"/>
<polygon points="1295.2,231.4 1293.5,224.7 1303.2,220.5 1308.4,224.0 1307.5,233.2 1301.6,236.3" fill="url(#lump2)" stroke="#050506" stroke-width="0.7" stroke-linejoin="round"/>
<polygon points="1339.7,184.0 1338.5,188.8 1331.0,192.0 1325.6,189.7 1325.2,182.9 1328.1,178.2 1335.0,176.9" fill="url(#lump)" stroke="#050506" stroke-width="0.7" stroke-linejoin="round"/>
<polygon points="1314.0,211.5 1322.2,211.2 1326.4,215.8 1324.6,223.1 1319.2,224.6 1312.6,224.5 1311.2,215.3" fill="url(#lump2)" stroke="#050506" stroke-width="0.7" stroke-linejoin="round"/>
<polygon points="1288.3,198.9 1278.1,198.7 1278.6,189.7 1284.0,184.8 1293.5,192.5" fill="url(#lump)" stroke="#050506" stroke-width="0.7" stroke-linejoin="round"/>
<polygon points="1288.7,249.3 1288.2,241.7 1293.2,238.6 1298.0,240.8 1299.4,246.6 1296.5,250.0" fill="url(#lump2)" stroke="#050506" stroke-width="0.7" stroke-linejoin="round"/>
<polygon points="1349.2,186.8 1340.6,188.8 1337.5,183.0 1343.5,176.3 1352.7,178.9" fill="url(#lump)" stroke="#050506" stroke-width="0.7" stroke-linejoin="round"/>
<polygon points="1264.9,167.9 1269.3,162.6 1278.0,164.6 1281.2,170.1 1278.8,175.6 1272.7,176.8 1264.0,171.8" fill="url(#lump2)" stroke="#050506" stroke-width="0.7" stroke-linejoin="round"/>
<polygon points="1270.4,237.8 1262.5,233.9 1262.1,225.5 1268.1,222.3 1277.5,227.4 1275.2,234.4" fill="url(#lump)" stroke="#050506" stroke-width="0.7" stroke-linejoin="round"/>
<polygon points="1268.9,238.3 1279.7,240.4 1282.5,243.8 1276.8,250.9 1268.4,249.4 1265.8,244.0" fill="url(#lump)" stroke="#050506" stroke-width="0.7" stroke-linejoin="round"/>
<polygon points="1343.9,226.4 1336.1,225.7 1333.1,216.2 1342.4,214.0 1351.0,219.2" fill="url(#lump)" stroke="#050506" stroke-width="0.7" stroke-linejoin="round"/>
<polygon points="1335.9,192.1 1334.4,198.3 1326.0,202.2 1319.0,198.3 1319.7,190.3 1327.7,186.1" fill="url(#lump)" stroke="#050506" stroke-width="0.7" stroke-linejoin="round"/>
<polygon points="1259.4,178.2 1251.1,174.6 1254.3,165.3 1261.9,165.3 1266.4,169.0 1265.3,175.1" fill="url(#lump)" stroke="#050506" stroke-width="0.7" stroke-linejoin="round"/>
<polygon points="1286.9,231.1 1280.9,237.4 1274.6,235.1 1271.2,228.0 1278.4,222.6 1284.4,223.6" fill="url(#lump)" stroke="#050506" stroke-width="0.7" stroke-linejoin="round"/>
<polygon points="1306.6,236.4 1303.2,232.2 1304.2,228.1 1312.8,226.4 1316.9,230.5 1312.2,236.7" fill="url(#lump2)" stroke="#050506" stroke-width="0.7" stroke-linejoin="round"/>
<polygon points="1316.3,233.7 1322.1,241.2 1317.7,247.5 1308.3,243.6 1309.1,236.6" fill="url(#lump)" stroke="#050506" stroke-width="0.7" stroke-linejoin="round"/>
<polygon points="1350.3,174.9 1356.4,174.6 1362.7,179.2 1361.4,186.2 1357.8,188.1 1349.4,187.7 1346.0,183.0" fill="url(#lump2)" stroke="#050506" stroke-width="0.7" stroke-linejoin="round"/>
<polygon points="1279.3,218.9 1275.1,226.0 1267.5,226.6 1264.4,216.9 1270.6,213.5" fill="url(#lump2)" stroke="#050506" stroke-width="0.7" stroke-linejoin="round"/>
<polygon points="1347.6,201.0 1350.0,207.3 1345.7,213.1 1339.7,211.6 1337.0,205.7 1342.9,201.6" fill="url(#lump)" stroke="#050506" stroke-width="0.7" stroke-linejoin="round"/>
<polygon points="1340.1,168.6 1344.5,160.5 1356.3,162.8 1357.2,171.2 1345.2,174.5" fill="url(#lump)" stroke="#050506" stroke-width="0.7" stroke-linejoin="round"/>
<polygon points="1281.0,191.7 1278.0,198.0 1275.1,198.9 1267.4,196.8 1266.9,192.2 1272.3,186.7 1277.0,186.1" fill="url(#lump)" stroke="#050506" stroke-width="0.7" stroke-linejoin="round"/>
<polygon points="1298.6,209.8 1292.6,207.6 1290.4,201.2 1295.5,198.8 1302.5,200.1 1305.0,206.1" fill="url(#lump)" stroke="#050506" stroke-width="0.7" stroke-linejoin="round"/>
<polygon points="1254.1,245.7 1251.0,239.6 1256.6,235.7 1263.8,236.5 1265.8,243.3 1259.8,247.2" fill="url(#lump)" stroke="#050506" stroke-width="0.7" stroke-linejoin="round"/>
<circle cx="1295.9" cy="202.3" r="1.1" fill="#8b8e98" opacity="0.35"/>
<circle cx="1335.9" cy="219.4" r="1.0" fill="#8b8e98" opacity="0.35"/>
<circle cx="1263.8" cy="187.3" r="1.0" fill="#8b8e98" opacity="0.35"/>
<circle cx="1299.6" cy="240.1" r="1.0" fill="#8b8e98" opacity="0.35"/>
<circle cx="1275.3" cy="184.8" r="0.8" fill="#8b8e98" opacity="0.35"/>
<circle cx="1312.1" cy="226.4" r="1.0" fill="#8b8e98" opacity="0.35"/>
<circle cx="1297.5" cy="172.7" r="0.8" fill="#8b8e98" opacity="0.35"/>
<circle cx="1299.7" cy="212.6" r="0.6" fill="#8b8e98" opacity="0.35"/>
<circle cx="1319.4" cy="170.3" r="0.5" fill="#8b8e98" opacity="0.35"/>
<circle cx="1326.9" cy="222.9" r="0.6" fill="#8b8e98" opacity="0.35"/>
<circle cx="1278.7" cy="226.0" r="1.1" fill="#8b8e98" opacity="0.35"/>
<circle cx="1329.2" cy="232.2" r="0.9" fill="#8b8e98" opacity="0.35"/>
<circle cx="1287.7" cy="199.7" r="1.0" fill="#8b8e98" opacity="0.35"/>
<circle cx="1267.0" cy="212.7" r="1.0" fill="#8b8e98" opacity="0.35"/>
<circle cx="1309.4" cy="200.5" r="1.2" fill="#8b8e98" opacity="0.35"/>
<circle cx="1264.7" cy="186.2" r="0.5" fill="#8b8e98" opacity="0.35"/>
<circle cx="1288.4" cy="204.9" r="1.0" fill="#8b8e98" opacity="0.35"/>
<circle cx="1337.0" cy="191.0" r="1.0" fill="#8b8e98" opacity="0.35"/>
<circle cx="1309.1" cy="197.8" r="0.9" fill="#8b8e98" opacity="0.35"/>
<circle cx="1342.7" cy="213.3" r="0.5" fill="#8b8e98" opacity="0.35"/>
<circle cx="1281.3" cy="189.1" r="0.8" fill="#8b8e98" opacity="0.35"/>
<circle cx="1269.6" cy="234.1" r="0.5" fill="#8b8e98" opacity="0.35"/>
<circle cx="1349.9" cy="194.5" r="1.2" fill="#8b8e98" opacity="0.35"/>
<circle cx="1262.5" cy="234.4" r="1.0" fill="#8b8e98" opacity="0.35"/>
<circle cx="1273.8" cy="192.6" r="0.6" fill="#8b8e98" opacity="0.35"/>
<circle cx="1296.2" cy="180.5" r="0.5" fill="#8b8e98" opacity="0.35"/>
<circle cx="1273.8" cy="183.5" r="0.8" fill="#8b8e98" opacity="0.35"/>
<circle cx="1318.4" cy="227.9" r="0.9" fill="#8b8e98" opacity="0.35"/>
<circle cx="1284.3" cy="210.7" r="0.6" fill="#8b8e98" opacity="0.35"/>
<circle cx="1264.3" cy="227.4" r="0.6" fill="#8b8e98" opacity="0.35"/>
<circle cx="1268.2" cy="226.9" r="1.0" fill="#8b8e98" opacity="0.35"/>
<circle cx="1341.6" cy="227.3" r="0.7" fill="#8b8e98" opacity="0.35"/>
<circle cx="1281.7" cy="206.1" r="1.2" fill="#8b8e98" opacity="0.35"/>
<circle cx="1277.2" cy="190.6" r="1.1" fill="#8b8e98" opacity="0.35"/>
<circle cx="1277.2" cy="233.5" r="0.6" fill="#8b8e98" opacity="0.35"/>
<circle cx="1315.5" cy="171.9" r="1.1" fill="#8b8e98" opacity="0.35"/>
<circle cx="1332.2" cy="189.5" r="0.8" fill="#8b8e98" opacity="0.35"/>
<circle cx="1295.5" cy="201.6" r="0.6" fill="#8b8e98" opacity="0.35"/>
<circle cx="1317.5" cy="231.9" r="1.1" fill="#8b8e98" opacity="0.35"/>
<circle cx="1268.7" cy="227.5" r="0.8" fill="#8b8e98" opacity="0.35"/>
<circle cx="1325.8" cy="179.1" r="0.9" fill="#8b8e98" opacity="0.35"/>
<circle cx="1337.0" cy="236.1" r="0.9" fill="#8b8e98" opacity="0.35"/>
<circle cx="1285.1" cy="184.1" r="1.0" fill="#8b8e98" opacity="0.35"/>
<circle cx="1269.9" cy="186.8" r="0.9" fill="#8b8e98" opacity="0.35"/>
<circle cx="1316.5" cy="237.9" r="1.1" fill="#8b8e98" opacity="0.35"/>
</g></g></g>
<!-- ===== RES section ===== -->
<g class="serif" fill="#000">
<text x="1362.700" y="587.300" font-size="32.500" textLength="65.500" lengthAdjust="spacingAndGlyphs">solar</text>
<text x="1363.400" y="671.300" font-size="32.500" textLength="65.500" lengthAdjust="spacingAndGlyphs">wind</text>
<text x="1355.400" y="774.600" font-size="32.500" textLength="79.900" lengthAdjust="spacingAndGlyphs">hydro</text>
</g>
<g transform="translate(1090,520) scale(0.27174)">
<!-- pylon icon -->
<g transform="translate(18.400,202.400) scale(0.5668)">
<rect x="40" y="58" width="380" height="452" fill="#d9d9d9"/>
<g fill="none" stroke="#0a0a0a" stroke-linecap="round" stroke-linejoin="round">
<path d="M196 88 L152 448 M262 88 L306 448 M188 86 H270" stroke-width="24"/>
<path d="M190 106 L120 160 H190 M184 200 L120 255 H180 M266 106 L338 160 H266 M272 200 L338 255 H276" stroke-width="17"/>
<path d="M120 160 V186 M338 160 V186 M120 255 V282 M338 255 V282" stroke-width="13"/>
<path d="M198 100 L262 150 M262 100 L198 150 M190 160 L268 232 M268 160 L190 232 M182 242 L278 332 M278 242 L182 332 M172 342 L292 440 M292 342 L172 440" stroke-width="9"/>
</g>
<rect x="90" y="440" width="266" height="32" fill="#0a0a0a"/>
<g fill="none" stroke="#555" stroke-width="7" stroke-dasharray="30 12"><path d="M100 165 L42 205 M100 220 L42 242 M100 268 L42 272 M356 165 L418 205 M356 220 L418 242 M356 268 L418 272"/></g>
<!-- bolt icon -->
<rect x="118" y="742" width="302" height="300" fill="#d9d9d9"/>
<circle cx="270" cy="900" r="136" fill="none" stroke="#0a0a0a" stroke-width="25"/>
<polygon points="245,815 310,815 290,880 325,880 305,935 332,935 270,1010 222,935 258,935 272,895 215,895" fill="#0a0a0a"/>
</g>
<!-- solar -->
<rect x="572.500" y="60.500" width="305" height="302" fill="#fff" stroke="#000" stroke-width="7"/>
<g fill="#f7a81b"><circle cx="820" cy="118" r="42"/>
<path d="M820 66 L828 80 H812 Z M820 170 L828 156 H812 Z M768 118 L782 110 V126 Z M872 118 L858 110 V126 Z M783 81 L798 86 L788 97 Z M857 81 L842 86 L852 97 Z M783 155 L798 150 L788 139 Z M857 155 L842 150 L852 139 Z"/></g>
<circle cx="820" cy="118" r="36" fill="#fbc860"/>
<path d="M640 320 L800 300 L862 335 L690 345 Z" fill="#bdbdbd"/>
<path d="M720 270 L735 270 L732 315 L760 322 L700 326 L722 315 Z" fill="#222"/>
<path d="M640 330 Q660 345 690 335" fill="none" stroke="#222" stroke-width="5"/>
<path d="M630 258 L850 248 L852 262 L640 275 Z" fill="#2d6fb5"/>
<path d="M650 275 L660 275 L665 300 L655 300 Z M800 262 L810 262 L815 290 L805 290 Z" fill="#8a6a3a"/>
<path d="M578 170 L762 184 L862 255 L640 264 Z" fill="#1a3fae" stroke="#9aa4b8" stroke-width="4"/>
<path d="M625 174 L690 262 M672 178 L745 260 M718 181 L800 258" stroke="#cfd8ea" stroke-width="4" fill="none"/>
<path d="M600 185 L640 188 L690 245 L652 250 Z" fill="#5b8ff0" opacity="0.700"/>
<path d="M690 192 L730 195 L760 230 L722 235 Z" fill="#7fb0ff" opacity="0.600"/>
<!-- wind -->
<rect x="569.500" y="377.500" width="311" height="337" fill="#cfe0d0" stroke="#000" stroke-width="7"/>
<rect x="584" y="388" width="292" height="318" fill="#5b9bb8"/>
<g fill="#7fb2cb"><ellipse cx="790" cy="440" rx="48" ry="28"/><ellipse cx="745" cy="455" rx="30" ry="14"/><ellipse cx="820" cy="458" rx="30" ry="12"/><ellipse cx="620" cy="485" rx="36" ry="24"/><ellipse cx="645" cy="498" rx="22" ry="9"/><ellipse cx="832" cy="572" rx="24" ry="14"/></g>
<rect x="584" y="690" width="292" height="16" fill="#2e7d46"/>
<path d="M584 690 Q700 672 876 690 V696 H584 Z" fill="#4c7f8f"/>
<g fill="#f2f2ea" stroke="#c9c9b5" stroke-width="1.500">
<path d="M728 492 L742 492 L738 702 L724 702 Z"/>
<path d="M735 492 L705 395 L716 398 L742 486 Z"/><path d="M735 492 L830 528 L822 533 L733 502 Z"/><path d="M735 492 L668 570 L672 560 L728 488 Z"/>
<path d="M636 585 L646 585 L643 702 L634 702 Z"/>
<path d="M640 585 L622 515 L630 520 L645 580 Z"/><path d="M640 585 L703 605 L696 609 L640 592 Z"/><path d="M640 585 L596 630 L600 622 L636 582 Z"/>
<path d="M797 600 L806 600 L804 702 L796 702 Z"/>
<path d="M801 600 L790 545 L797 550 L806 596 Z"/><path d="M801 600 L852 615 L846 619 L801 606 Z"/><path d="M801 600 L768 638 L771 630 L798 597 Z"/>
</g>
<!-- hydro -->
<rect x="572.500" y="735.500" width="312" height="309" fill="#fff" stroke="#000" stroke-width="7"/>
<g transform="translate(552,36.800) scale(0.934)">
<g fill="#29abe2">
<path d="M68 985 Q105 985 135 945 Q165 900 172 860 Q180 825 212 812 Q240 808 248 828 Q225 822 212 842 Q200 865 215 895 Q225 870 255 862 Q292 862 305 895 Q312 925 292 945 Q270 960 250 945 Q275 948 285 925 Q290 900 268 890 Q245 888 235 910 Q228 940 250 962 Q280 985 305 1003 Q270 985 235 990 Q190 1000 150 1012 Q105 1015 68 985 Z"/>
<path d="M98 892 Q112 878 130 888 Q152 905 153 940 Q143 958 135 945 Q132 925 118 916 Q100 910 98 892 Z"/>
<circle cx="274" cy="936" r="8"/>
</g>
<path d="M158 966 Q180 930 186 878 Q196 920 174 968 Z" fill="#fff"/>
</g>
</g>
<!-- ===== biomass ===== -->
<g filter="url(#blur6)" fill="#6fae3c" opacity="0.350"><ellipse cx="1298" cy="1022" rx="50" ry="13"/><ellipse cx="1433" cy="1022" rx="50" ry="13"/><ellipse cx="1357" cy="1036" rx="40" ry="8"/></g>
<text class="serif" x="1301.400" y="869.500" font-size="32.500" font-weight="bold" textLength="118.000" lengthAdjust="spacingAndGlyphs" fill="#000">Biomass</text>
<defs><clipPath id="bc1"><circle cx="1297.400" cy="920.700" r="44.300"/></clipPath><clipPath id="bc2"><ellipse cx="1429.400" cy="920.400" rx="47.300" ry="44.600"/></clipPath><clipPath id="bc3"><circle cx="1357" cy="991.500" r="41"/></clipPath></defs>
<g clip-path="url(#bc1)">
<rect x="1250" y="874" width="96" height="94" fill="#b99a45"/>
<ellipse cx="1309.3" cy="942.8" rx="5.2" ry="2.9" fill="#d8b85a" transform="rotate(47 1309.3 942.8)"/>
<ellipse cx="1294.8" cy="960.9" rx="4.6" ry="2.8" fill="#c9a94a" transform="rotate(-13 1294.8 960.9)"/>
<ellipse cx="1295.2" cy="898.2" rx="4.2" ry="2.1" fill="#d8b85a" transform="rotate(33 1295.2 898.2)"/>
<ellipse cx="1271.9" cy="901.2" rx="5.7" ry="2.5" fill="#e3c873" transform="rotate(37 1271.9 901.2)"/>
<ellipse cx="1325.3" cy="888.5" rx="4.5" ry="1.3" fill="#d8b85a" transform="rotate(51 1325.3 888.5)"/>
<ellipse cx="1252.5" cy="945.6" rx="5.8" ry="1.3" fill="#e3c873" transform="rotate(-23 1252.5 945.6)"/>
<ellipse cx="1280.9" cy="893.9" rx="5.5" ry="2.3" fill="#e3c873" transform="rotate(60 1280.9 893.9)"/>
<ellipse cx="1341.1" cy="893.7" rx="5.9" ry="1.8" fill="#d8b85a" transform="rotate(-14 1341.1 893.7)"/>
<ellipse cx="1290.2" cy="960.2" rx="3.1" ry="1.7" fill="#d8b85a" transform="rotate(16 1290.2 960.2)"/>
<ellipse cx="1314.4" cy="906.4" rx="3.2" ry="2.6" fill="#e8d58a" transform="rotate(29 1314.4 906.4)"/>
<ellipse cx="1281.1" cy="919.3" rx="4.8" ry="1.1" fill="#d8b85a" transform="rotate(35 1281.1 919.3)"/>
<ellipse cx="1284.9" cy="912.4" rx="4.2" ry="1.8" fill="#8f7a35" transform="rotate(14 1284.9 912.4)"/>
<ellipse cx="1329.4" cy="916.8" rx="4.8" ry="2.2" fill="#a8883a" transform="rotate(-45 1329.4 916.8)"/>
<ellipse cx="1321.5" cy="959.7" rx="5.8" ry="1.7" fill="#bfa050" transform="rotate(54 1321.5 959.7)"/>
<ellipse cx="1300.3" cy="945.8" rx="2.4" ry="2.5" fill="#bfa050" transform="rotate(50 1300.3 945.8)"/>
<ellipse cx="1279.2" cy="915.0" rx="5.9" ry="1.4" fill="#bfa050" transform="rotate(57 1279.2 915.0)"/>
<ellipse cx="1265.6" cy="900.8" rx="4.8" ry="1.2" fill="#bfa050" transform="rotate(-21 1265.6 900.8)"/>
<ellipse cx="1268.3" cy="883.0" rx="2.6" ry="2.4" fill="#e8d58a" transform="rotate(-40 1268.3 883.0)"/>
<ellipse cx="1318.3" cy="883.3" rx="4.4" ry="2.8" fill="#d8b85a" transform="rotate(-30 1318.3 883.3)"/>
<ellipse cx="1320.1" cy="906.9" rx="3.0" ry="2.3" fill="#e3c873" transform="rotate(-53 1320.1 906.9)"/>
<ellipse cx="1342.1" cy="933.4" rx="5.2" ry="1.7" fill="#a8883a" transform="rotate(-44 1342.1 933.4)"/>
<ellipse cx="1342.3" cy="926.8" rx="2.5" ry="2.8" fill="#8f7a35" transform="rotate(-47 1342.3 926.8)"/>
<ellipse cx="1267.5" cy="909.6" rx="2.2" ry="1.8" fill="#e3c873" transform="rotate(-2 1267.5 909.6)"/>
<ellipse cx="1336.8" cy="931.8" rx="2.7" ry="2.0" fill="#e8d58a" transform="rotate(28 1336.8 931.8)"/>
<ellipse cx="1319.1" cy="919.1" rx="3.2" ry="1.8" fill="#e3c873" transform="rotate(-46 1319.1 919.1)"/>
<ellipse cx="1286.7" cy="965.0" rx="5.8" ry="2.3" fill="#e8d58a" transform="rotate(51 1286.7 965.0)"/>
<ellipse cx="1283.1" cy="884.0" rx="3.1" ry="2.6" fill="#bfa050" transform="rotate(-52 1283.1 884.0)"/>
<ellipse cx="1324.3" cy="945.7" rx="4.8" ry="2.3" fill="#cdb060" transform="rotate(-14 1324.3 945.7)"/>
<ellipse cx="1303.5" cy="936.1" rx="5.3" ry="1.5" fill="#cdb060" transform="rotate(-17 1303.5 936.1)"/>
<ellipse cx="1311.8" cy="928.3" rx="2.0" ry="2.1" fill="#cdb060" transform="rotate(-19 1311.8 928.3)"/>
<ellipse cx="1313.8" cy="917.7" rx="5.3" ry="2.3" fill="#bfa050" transform="rotate(-16 1313.8 917.7)"/>
<ellipse cx="1277.2" cy="907.1" rx="5.8" ry="1.8" fill="#e3c873" transform="rotate(51 1277.2 907.1)"/>
<ellipse cx="1331.8" cy="916.5" rx="3.5" ry="1.7" fill="#e3c873" transform="rotate(7 1331.8 916.5)"/>
<ellipse cx="1342.2" cy="893.9" rx="3.4" ry="2.7" fill="#cdb060" transform="rotate(28 1342.2 893.9)"/>
<ellipse cx="1259.3" cy="936.4" rx="3.7" ry="2.2" fill="#8f7a35" transform="rotate(-22 1259.3 936.4)"/>
<ellipse cx="1309.4" cy="945.7" rx="4.5" ry="2.4" fill="#d8b85a" transform="rotate(-35 1309.4 945.7)"/>
<ellipse cx="1266.7" cy="915.7" rx="4.6" ry="1.4" fill="#e3c873" transform="rotate(20 1266.7 915.7)"/>
<ellipse cx="1318.1" cy="964.8" rx="5.9" ry="1.3" fill="#e3c873" transform="rotate(-46 1318.1 964.8)"/>
<ellipse cx="1281.2" cy="892.3" rx="2.8" ry="1.1" fill="#e8d58a" transform="rotate(-16 1281.2 892.3)"/>
<ellipse cx="1287.0" cy="931.1" rx="4.4" ry="1.5" fill="#bfa050" transform="rotate(-60 1287.0 931.1)"/>
<ellipse cx="1284.2" cy="961.7" rx="5.4" ry="2.7" fill="#bfa050" transform="rotate(-56 1284.2 961.7)"/>
<ellipse cx="1302.6" cy="903.1" rx="3.2" ry="2.0" fill="#cdb060" transform="rotate(-15 1302.6 903.1)"/>
<ellipse cx="1327.3" cy="913.7" rx="5.3" ry="2.3" fill="#bfa050" transform="rotate(-1 1327.3 913.7)"/>
<ellipse cx="1265.1" cy="929.6" rx="4.3" ry="2.9" fill="#e3c873" transform="rotate(17 1265.1 929.6)"/>
<ellipse cx="1260.4" cy="949.9" rx="4.6" ry="1.8" fill="#bfa050" transform="rotate(12 1260.4 949.9)"/>
<ellipse cx="1336.3" cy="924.5" rx="3.3" ry="2.8" fill="#8f7a35" transform="rotate(-6 1336.3 924.5)"/>
<ellipse cx="1291.7" cy="896.4" rx="3.2" ry="2.9" fill="#8f7a35" transform="rotate(-11 1291.7 896.4)"/>
<ellipse cx="1340.4" cy="958.2" rx="4.4" ry="1.5" fill="#cdb060" transform="rotate(3 1340.4 958.2)"/>
<ellipse cx="1275.1" cy="877.8" rx="5.8" ry="1.6" fill="#cdb060" transform="rotate(-42 1275.1 877.8)"/>
<ellipse cx="1295.9" cy="887.0" rx="4.5" ry="1.9" fill="#cdb060" transform="rotate(-55 1295.9 887.0)"/>
<ellipse cx="1323.9" cy="950.4" rx="2.1" ry="2.1" fill="#cdb060" transform="rotate(-29 1323.9 950.4)"/>
<ellipse cx="1338.0" cy="946.4" rx="3.0" ry="1.5" fill="#e3c873" transform="rotate(32 1338.0 946.4)"/>
<ellipse cx="1343.0" cy="902.4" rx="4.4" ry="1.9" fill="#c9a94a" transform="rotate(-58 1343.0 902.4)"/>
<ellipse cx="1322.0" cy="903.1" rx="4.1" ry="1.7" fill="#cdb060" transform="rotate(33 1322.0 903.1)"/>
<ellipse cx="1300.7" cy="917.8" rx="3.4" ry="2.5" fill="#e3c873" transform="rotate(-56 1300.7 917.8)"/>
<ellipse cx="1252.3" cy="925.8" rx="4.7" ry="1.2" fill="#a8883a" transform="rotate(-59 1252.3 925.8)"/>
<ellipse cx="1291.5" cy="948.7" rx="4.4" ry="2.4" fill="#e8d58a" transform="rotate(49 1291.5 948.7)"/>
<ellipse cx="1335.9" cy="910.7" rx="3.6" ry="2.7" fill="#a8883a" transform="rotate(55 1335.9 910.7)"/>
<ellipse cx="1279.3" cy="950.7" rx="2.3" ry="2.7" fill="#8f7a35" transform="rotate(14 1279.3 950.7)"/>
<ellipse cx="1278.3" cy="946.3" rx="5.6" ry="1.3" fill="#e8d58a" transform="rotate(28 1278.3 946.3)"/>
<ellipse cx="1302.5" cy="920.8" rx="3.3" ry="1.3" fill="#d8b85a" transform="rotate(-52 1302.5 920.8)"/>
<ellipse cx="1319.4" cy="900.0" rx="2.3" ry="1.1" fill="#d8b85a" transform="rotate(-18 1319.4 900.0)"/>
<ellipse cx="1318.5" cy="964.1" rx="6.0" ry="2.4" fill="#d8b85a" transform="rotate(-45 1318.5 964.1)"/>
<ellipse cx="1329.5" cy="895.7" rx="4.6" ry="2.9" fill="#e3c873" transform="rotate(-23 1329.5 895.7)"/>
<ellipse cx="1316.9" cy="915.4" rx="2.7" ry="1.4" fill="#e3c873" transform="rotate(-52 1316.9 915.4)"/>
<ellipse cx="1309.3" cy="879.9" rx="2.4" ry="1.8" fill="#c9a94a" transform="rotate(-25 1309.3 879.9)"/>
<ellipse cx="1257.3" cy="927.8" rx="5.0" ry="2.8" fill="#e3c873" transform="rotate(-59 1257.3 927.8)"/>
<ellipse cx="1291.7" cy="904.3" rx="4.4" ry="2.0" fill="#bfa050" transform="rotate(57 1291.7 904.3)"/>
<ellipse cx="1257.1" cy="938.8" rx="2.6" ry="2.3" fill="#cdb060" transform="rotate(56 1257.1 938.8)"/>
<ellipse cx="1338.7" cy="925.5" rx="2.9" ry="1.1" fill="#a8883a" transform="rotate(-28 1338.7 925.5)"/>
<ellipse cx="1328.6" cy="901.5" rx="5.9" ry="2.6" fill="#bfa050" transform="rotate(-2 1328.6 901.5)"/>
<ellipse cx="1319.8" cy="892.1" rx="4.9" ry="2.3" fill="#c9a94a" transform="rotate(13 1319.8 892.1)"/>
<ellipse cx="1313.5" cy="884.2" rx="2.5" ry="2.2" fill="#a8883a" transform="rotate(-11 1313.5 884.2)"/>
<ellipse cx="1332.7" cy="919.2" rx="3.3" ry="2.6" fill="#d8b85a" transform="rotate(9 1332.7 919.2)"/>
<ellipse cx="1318.7" cy="880.8" rx="2.6" ry="2.9" fill="#a8883a" transform="rotate(35 1318.7 880.8)"/>
<ellipse cx="1262.7" cy="963.5" rx="4.7" ry="2.6" fill="#e3c873" transform="rotate(29 1262.7 963.5)"/>
<ellipse cx="1309.5" cy="907.9" rx="2.9" ry="1.7" fill="#bfa050" transform="rotate(41 1309.5 907.9)"/>
<ellipse cx="1287.5" cy="888.3" rx="5.3" ry="2.3" fill="#8f7a35" transform="rotate(49 1287.5 888.3)"/>
<ellipse cx="1285.3" cy="879.3" rx="6.0" ry="1.4" fill="#e3c873" transform="rotate(-10 1285.3 879.3)"/>
<ellipse cx="1257.8" cy="879.3" rx="2.7" ry="1.4" fill="#e8d58a" transform="rotate(53 1257.8 879.3)"/>
<ellipse cx="1338.2" cy="935.5" rx="3.4" ry="1.9" fill="#cdb060" transform="rotate(53 1338.2 935.5)"/>
<ellipse cx="1338.0" cy="959.0" rx="3.3" ry="1.9" fill="#a8883a" transform="rotate(-41 1338.0 959.0)"/>
<ellipse cx="1312.1" cy="882.4" rx="5.5" ry="2.7" fill="#e8d58a" transform="rotate(-41 1312.1 882.4)"/>
<ellipse cx="1302.8" cy="885.9" rx="5.3" ry="2.5" fill="#a8883a" transform="rotate(-56 1302.8 885.9)"/>
<ellipse cx="1296.3" cy="878.9" rx="5.7" ry="1.7" fill="#d8b85a" transform="rotate(28 1296.3 878.9)"/>
<ellipse cx="1254.0" cy="917.1" rx="5.4" ry="1.3" fill="#bfa050" transform="rotate(-23 1254.0 917.1)"/>
<ellipse cx="1293.8" cy="897.6" rx="6.0" ry="1.1" fill="#d8b85a" transform="rotate(13 1293.8 897.6)"/>
<ellipse cx="1273.2" cy="883.0" rx="3.6" ry="2.9" fill="#bfa050" transform="rotate(27 1273.2 883.0)"/>
<ellipse cx="1280.7" cy="918.1" rx="3.1" ry="2.5" fill="#e8d58a" transform="rotate(-40 1280.7 918.1)"/>
<ellipse cx="1323.4" cy="891.8" rx="2.8" ry="1.1" fill="#8f7a35" transform="rotate(32 1323.4 891.8)"/>
<ellipse cx="1341.7" cy="876.6" rx="2.2" ry="2.6" fill="#8f7a35" transform="rotate(-39 1341.7 876.6)"/>
<ellipse cx="1256.1" cy="925.4" rx="6.0" ry="2.0" fill="#bfa050" transform="rotate(60 1256.1 925.4)"/>
<ellipse cx="1260.6" cy="882.4" rx="5.6" ry="2.0" fill="#e8d58a" transform="rotate(-54 1260.6 882.4)"/>
<ellipse cx="1314.8" cy="934.0" rx="4.0" ry="2.6" fill="#d8b85a" transform="rotate(-28 1314.8 934.0)"/>
<ellipse cx="1328.7" cy="916.1" rx="4.6" ry="2.8" fill="#a8883a" transform="rotate(-38 1328.7 916.1)"/>
<ellipse cx="1316.0" cy="933.6" rx="2.8" ry="1.5" fill="#bfa050" transform="rotate(41 1316.0 933.6)"/>
<ellipse cx="1261.9" cy="924.8" rx="5.7" ry="2.2" fill="#a8883a" transform="rotate(19 1261.9 924.8)"/>
<ellipse cx="1253.6" cy="924.6" rx="3.9" ry="2.1" fill="#8f7a35" transform="rotate(6 1253.6 924.6)"/>
<ellipse cx="1309.5" cy="941.3" rx="5.7" ry="1.6" fill="#e8d58a" transform="rotate(54 1309.5 941.3)"/>
<ellipse cx="1328.0" cy="896.2" rx="2.5" ry="1.6" fill="#c9a94a" transform="rotate(39 1328.0 896.2)"/>
<ellipse cx="1323.1" cy="949.7" rx="3.3" ry="1.3" fill="#c9a94a" transform="rotate(0 1323.1 949.7)"/>
<ellipse cx="1274.5" cy="883.6" rx="3.7" ry="2.2" fill="#a8883a" transform="rotate(-25 1274.5 883.6)"/>
<ellipse cx="1257.7" cy="939.1" rx="2.2" ry="1.4" fill="#cdb060" transform="rotate(52 1257.7 939.1)"/>
<ellipse cx="1286.4" cy="884.9" rx="3.7" ry="1.6" fill="#d8b85a" transform="rotate(54 1286.4 884.9)"/>
<ellipse cx="1278.3" cy="960.6" rx="2.5" ry="1.1" fill="#e3c873" transform="rotate(44 1278.3 960.6)"/>
<ellipse cx="1315.3" cy="946.3" rx="2.1" ry="1.1" fill="#8f7a35" transform="rotate(-26 1315.3 946.3)"/>
<ellipse cx="1261.8" cy="948.5" rx="4.2" ry="1.6" fill="#cdb060" transform="rotate(-39 1261.8 948.5)"/>
<ellipse cx="1264.6" cy="920.8" rx="3.3" ry="1.1" fill="#d8b85a" transform="rotate(-57 1264.6 920.8)"/>
<ellipse cx="1263.2" cy="963.3" rx="5.3" ry="1.9" fill="#cdb060" transform="rotate(18 1263.2 963.3)"/>
<ellipse cx="1253.5" cy="923.5" rx="2.5" ry="1.4" fill="#bfa050" transform="rotate(-59 1253.5 923.5)"/>
<path d="M1262.0 900.0 L1270.0 968.0" stroke="#4a4a22" stroke-width="8" stroke-linecap="round" opacity="0.900"/>
<path d="M1281.0 905.0 L1290.0 968.0" stroke="#4a4a22" stroke-width="10" stroke-linecap="round" opacity="0.900"/>
<path d="M1292.0 893.0 L1297.0 960.0" stroke="#4a4a22" stroke-width="6" stroke-linecap="round" opacity="0.900"/>
<path d="M1315.0 905.0 L1322.0 968.0" stroke="#4a4a22" stroke-width="7" stroke-linecap="round" opacity="0.900"/>
<path d="M1328.0 890.0 L1331.0 950.0" stroke="#4a4a22" stroke-width="6" stroke-linecap="round" opacity="0.900"/>
<path d="M1304.0 915.0 L1306.0 968.0" stroke="#4a4a22" stroke-width="4" stroke-linecap="round" opacity="0.900"/>
<ellipse cx="1310" cy="962" rx="10" ry="5" fill="#3f8f80" opacity="0.700"/>
</g>
<circle cx="1297.400" cy="920.700" r="44.100" fill="none" stroke="#111" stroke-width="2.200"/>
<g clip-path="url(#bc2)">
<rect x="1380" y="872" width="100" height="98" fill="#5d8a3c"/>
<ellipse cx="1410" cy="900" rx="30" ry="26" fill="#7aa552" opacity="0.700"/><ellipse cx="1450" cy="950" rx="34" ry="22" fill="#4d7030" opacity="0.700"/><ellipse cx="1400" cy="955" rx="24" ry="16" fill="#6b6a3a" opacity="0.500"/>
<path d="M1397.7 944.6 Q1400.4 931.0 1411.2 922.0" stroke="#7fae5a" stroke-width="1.1" fill="none" opacity="0.850"/>
<path d="M1398.4 951.1 Q1400.9 932.8 1410.7 920.6" stroke="#8a9a60" stroke-width="1.0" fill="none" opacity="0.850"/>
<path d="M1414.0 932.1 Q1414.6 917.5 1416.7 907.7" stroke="#b5d197" stroke-width="1.0" fill="none" opacity="0.850"/>
<path d="M1455.7 967.4 Q1458.3 947.7 1468.8 934.5" stroke="#cfe0b5" stroke-width="0.6" fill="none" opacity="0.850"/>
<path d="M1394.2 961.2 Q1392.5 938.9 1386.0 924.0" stroke="#9cc27a" stroke-width="0.6" fill="none" opacity="0.850"/>
<path d="M1437.4 934.7 Q1436.8 909.1 1434.4 892.0" stroke="#b5d197" stroke-width="0.8" fill="none" opacity="0.850"/>
<path d="M1460.9 921.8 Q1462.4 902.4 1468.3 889.4" stroke="#8a9a60" stroke-width="0.8" fill="none" opacity="0.850"/>
<path d="M1415.8 917.9 Q1417.7 890.6 1425.3 872.4" stroke="#8a9a60" stroke-width="0.7" fill="none" opacity="0.850"/>
<path d="M1429.5 925.1 Q1428.0 911.9 1422.1 903.1" stroke="#456b2c" stroke-width="0.6" fill="none" opacity="0.850"/>
<path d="M1398.3 907.1 Q1400.5 884.3 1409.5 869.0" stroke="#b5d197" stroke-width="1.3" fill="none" opacity="0.850"/>
<path d="M1454.5 934.4 Q1454.7 915.7 1455.4 903.2" stroke="#9cc27a" stroke-width="1.3" fill="none" opacity="0.850"/>
<path d="M1418.1 900.7 Q1418.6 881.3 1420.6 868.4" stroke="#b5d197" stroke-width="1.3" fill="none" opacity="0.850"/>
<path d="M1384.1 948.8 Q1384.2 927.8 1384.5 913.7" stroke="#cfe0b5" stroke-width="1.0" fill="none" opacity="0.850"/>
<path d="M1449.5 928.7 Q1451.3 901.4 1458.4 883.2" stroke="#5f8f3f" stroke-width="1.1" fill="none" opacity="0.850"/>
<path d="M1387.9 910.6 Q1390.4 892.8 1400.7 880.9" stroke="#9cc27a" stroke-width="1.2" fill="none" opacity="0.850"/>
<path d="M1432.1 920.5 Q1429.8 908.4 1420.6 900.3" stroke="#7fae5a" stroke-width="1.1" fill="none" opacity="0.850"/>
<path d="M1464.8 967.8 Q1467.5 950.0 1478.0 938.2" stroke="#9cc27a" stroke-width="0.8" fill="none" opacity="0.850"/>
<path d="M1450.7 905.2 Q1451.7 881.7 1455.5 866.1" stroke="#7fae5a" stroke-width="1.4" fill="none" opacity="0.850"/>
<path d="M1448.0 960.4 Q1448.6 937.1 1451.1 921.7" stroke="#b5d197" stroke-width="1.0" fill="none" opacity="0.850"/>
<path d="M1390.8 908.7 Q1392.4 892.2 1398.8 881.1" stroke="#456b2c" stroke-width="1.0" fill="none" opacity="0.850"/>
<path d="M1382.3 928.1 Q1383.1 914.3 1386.6 905.1" stroke="#b5d197" stroke-width="1.4" fill="none" opacity="0.850"/>
<path d="M1440.9 927.8 Q1442.0 915.2 1446.2 906.8" stroke="#cfe0b5" stroke-width="1.2" fill="none" opacity="0.850"/>
<path d="M1476.4 917.9 Q1475.3 905.4 1470.7 897.1" stroke="#8a9a60" stroke-width="0.8" fill="none" opacity="0.850"/>
<path d="M1441.7 964.6 Q1442.5 951.0 1445.4 941.9" stroke="#8a9a60" stroke-width="0.8" fill="none" opacity="0.850"/>
<path d="M1445.0 941.0 Q1445.7 919.7 1448.9 905.5" stroke="#cfe0b5" stroke-width="1.3" fill="none" opacity="0.850"/>
<path d="M1422.0 930.6 Q1424.3 910.9 1433.4 897.8" stroke="#7fae5a" stroke-width="1.0" fill="none" opacity="0.850"/>
<path d="M1390.1 964.0 Q1389.7 947.7 1387.9 936.8" stroke="#b5d197" stroke-width="0.7" fill="none" opacity="0.850"/>
<path d="M1436.0 943.4 Q1434.3 929.6 1427.3 920.3" stroke="#cfe0b5" stroke-width="0.7" fill="none" opacity="0.850"/>
<path d="M1457.5 923.8 Q1460.1 911.7 1470.2 903.6" stroke="#b5d197" stroke-width="1.4" fill="none" opacity="0.850"/>
<path d="M1473.9 922.9 Q1474.7 897.8 1478.0 881.1" stroke="#b5d197" stroke-width="1.4" fill="none" opacity="0.850"/>
<path d="M1441.1 957.4 Q1438.3 932.5 1427.1 915.9" stroke="#5f8f3f" stroke-width="0.7" fill="none" opacity="0.850"/>
<path d="M1390.9 910.9 Q1388.7 889.8 1379.8 875.7" stroke="#8a9a60" stroke-width="1.0" fill="none" opacity="0.850"/>
<path d="M1413.0 955.4 Q1415.2 941.5 1424.0 932.3" stroke="#cfe0b5" stroke-width="1.5" fill="none" opacity="0.850"/>
<path d="M1442.0 969.5 Q1439.8 957.0 1430.9 948.6" stroke="#9cc27a" stroke-width="0.8" fill="none" opacity="0.850"/>
<path d="M1413.1 912.4 Q1415.9 886.7 1426.8 869.5" stroke="#8a9a60" stroke-width="0.7" fill="none" opacity="0.850"/>
<path d="M1420.7 939.1 Q1418.6 922.0 1410.0 910.6" stroke="#cfe0b5" stroke-width="1.5" fill="none" opacity="0.850"/>
<path d="M1394.7 900.2 Q1393.9 883.0 1390.3 871.6" stroke="#5f8f3f" stroke-width="0.7" fill="none" opacity="0.850"/>
<path d="M1454.9 951.9 Q1452.8 936.2 1444.2 925.6" stroke="#456b2c" stroke-width="1.5" fill="none" opacity="0.850"/>
<path d="M1454.1 914.1 Q1452.1 897.5 1444.1 886.4" stroke="#456b2c" stroke-width="1.2" fill="none" opacity="0.850"/>
<path d="M1455.5 906.4 Q1455.0 893.7 1453.0 885.3" stroke="#8a9a60" stroke-width="0.7" fill="none" opacity="0.850"/>
<path d="M1423.5 915.9 Q1422.2 888.5 1417.1 870.3" stroke="#5f8f3f" stroke-width="0.7" fill="none" opacity="0.850"/>
<path d="M1408.0 906.9 Q1410.7 888.1 1421.6 875.5" stroke="#cfe0b5" stroke-width="1.4" fill="none" opacity="0.850"/>
<path d="M1464.1 917.6 Q1462.0 899.2 1453.7 887.0" stroke="#9cc27a" stroke-width="0.6" fill="none" opacity="0.850"/>
<path d="M1455.5 926.0 Q1454.1 914.9 1448.6 907.5" stroke="#456b2c" stroke-width="1.5" fill="none" opacity="0.850"/>
<path d="M1465.3 905.6 Q1463.6 878.5 1456.8 860.4" stroke="#8a9a60" stroke-width="1.0" fill="none" opacity="0.850"/>
<path d="M1427.3 906.1 Q1429.8 890.7 1440.0 880.3" stroke="#5f8f3f" stroke-width="1.0" fill="none" opacity="0.850"/>
<path d="M1384.2 911.5 Q1384.2 887.8 1384.2 871.9" stroke="#8a9a60" stroke-width="1.1" fill="none" opacity="0.850"/>
<path d="M1468.6 946.4 Q1466.0 925.0 1455.6 910.6" stroke="#9cc27a" stroke-width="1.0" fill="none" opacity="0.850"/>
<path d="M1451.4 958.5 Q1451.1 933.9 1449.5 917.4" stroke="#456b2c" stroke-width="0.6" fill="none" opacity="0.850"/>
<path d="M1460.3 912.0 Q1459.2 895.5 1454.8 884.5" stroke="#b5d197" stroke-width="1.0" fill="none" opacity="0.850"/>
<path d="M1475.3 971.6 Q1474.9 957.1 1473.1 947.5" stroke="#7fae5a" stroke-width="0.7" fill="none" opacity="0.850"/>
<path d="M1416.9 900.2 Q1418.4 878.7 1424.4 864.4" stroke="#8a9a60" stroke-width="1.0" fill="none" opacity="0.850"/>
<path d="M1389.1 927.4 Q1391.3 901.6 1399.9 884.3" stroke="#b5d197" stroke-width="1.2" fill="none" opacity="0.850"/>
<path d="M1453.7 935.6 Q1453.5 919.4 1452.6 908.7" stroke="#456b2c" stroke-width="0.8" fill="none" opacity="0.850"/>
<path d="M1470.3 967.5 Q1468.6 956.2 1461.5 948.6" stroke="#456b2c" stroke-width="0.7" fill="none" opacity="0.850"/>
<path d="M1394.6 947.1 Q1393.0 930.7 1386.6 919.7" stroke="#7fae5a" stroke-width="1.1" fill="none" opacity="0.850"/>
<path d="M1475.6 950.5 Q1473.4 938.2 1464.7 930.0" stroke="#5f8f3f" stroke-width="1.0" fill="none" opacity="0.850"/>
<path d="M1411.1 965.3 Q1410.8 945.3 1409.6 931.9" stroke="#8a9a60" stroke-width="0.8" fill="none" opacity="0.850"/>
<path d="M1436.6 918.9 Q1437.9 899.0 1443.1 885.7" stroke="#b5d197" stroke-width="0.8" fill="none" opacity="0.850"/>
<path d="M1445.8 904.0 Q1444.2 893.0 1437.8 885.6" stroke="#b5d197" stroke-width="1.1" fill="none" opacity="0.850"/>
<path d="M1440.6 957.1 Q1440.6 945.3 1440.6 937.5" stroke="#9cc27a" stroke-width="1.2" fill="none" opacity="0.850"/>
<path d="M1466.9 955.9 Q1466.5 935.7 1465.2 922.3" stroke="#9cc27a" stroke-width="1.2" fill="none" opacity="0.850"/>
<path d="M1470.8 926.7 Q1472.0 907.0 1476.7 893.8" stroke="#cfe0b5" stroke-width="1.5" fill="none" opacity="0.850"/>
<path d="M1476.9 921.7 Q1479.3 908.1 1488.9 899.1" stroke="#9cc27a" stroke-width="1.2" fill="none" opacity="0.850"/>
<path d="M1387.3 915.3 Q1385.1 894.1 1376.1 879.9" stroke="#cfe0b5" stroke-width="0.9" fill="none" opacity="0.850"/>
<path d="M1435.0 959.7 Q1434.1 946.6 1430.8 937.9" stroke="#456b2c" stroke-width="0.6" fill="none" opacity="0.850"/>
<path d="M1436.2 940.8 Q1437.6 929.3 1443.0 921.6" stroke="#9cc27a" stroke-width="0.9" fill="none" opacity="0.850"/>
<path d="M1395.8 969.7 Q1394.5 954.4 1389.5 944.3" stroke="#8a9a60" stroke-width="0.7" fill="none" opacity="0.850"/>
<path d="M1393.9 918.1 Q1392.6 906.9 1387.0 899.4" stroke="#b5d197" stroke-width="1.2" fill="none" opacity="0.850"/>
<path d="M1405.6 919.0 Q1405.2 893.4 1403.9 876.4" stroke="#8a9a60" stroke-width="0.8" fill="none" opacity="0.850"/>
<path d="M1395.2 903.7 Q1395.5 880.5 1396.9 865.0" stroke="#9cc27a" stroke-width="1.0" fill="none" opacity="0.850"/>
<path d="M1448.6 944.0 Q1449.4 921.9 1452.8 907.1" stroke="#9cc27a" stroke-width="1.1" fill="none" opacity="0.850"/>
<path d="M1393.3 951.9 Q1393.9 930.9 1396.4 916.8" stroke="#b5d197" stroke-width="1.1" fill="none" opacity="0.850"/>
<path d="M1448.8 950.8 Q1449.3 927.9 1451.4 912.7" stroke="#9cc27a" stroke-width="0.7" fill="none" opacity="0.850"/>
<path d="M1426.2 946.7 Q1427.4 920.9 1432.4 903.7" stroke="#9cc27a" stroke-width="1.5" fill="none" opacity="0.850"/>
<path d="M1447.3 919.7 Q1446.2 902.1 1441.8 890.3" stroke="#456b2c" stroke-width="0.9" fill="none" opacity="0.850"/>
<path d="M1382.1 954.6 Q1384.4 935.1 1393.4 922.2" stroke="#456b2c" stroke-width="0.9" fill="none" opacity="0.850"/>
<path d="M1445.0 967.9 Q1445.6 951.8 1448.1 941.1" stroke="#456b2c" stroke-width="0.7" fill="none" opacity="0.850"/>
<path d="M1415.9 905.7 Q1416.5 887.8 1419.3 875.8" stroke="#5f8f3f" stroke-width="1.0" fill="none" opacity="0.850"/>
<path d="M1400.9 965.9 Q1400.9 952.2 1400.9 943.1" stroke="#cfe0b5" stroke-width="0.9" fill="none" opacity="0.850"/>
<path d="M1383.6 931.2 Q1383.7 911.0 1383.7 897.5" stroke="#b5d197" stroke-width="1.1" fill="none" opacity="0.850"/>
<path d="M1445.6 930.2 Q1447.5 906.2 1455.0 890.3" stroke="#7fae5a" stroke-width="1.2" fill="none" opacity="0.850"/>
<path d="M1400.8 930.6 Q1400.9 905.6 1401.3 888.9" stroke="#456b2c" stroke-width="1.2" fill="none" opacity="0.850"/>
<path d="M1443.5 968.8 Q1445.0 956.1 1451.1 947.6" stroke="#7fae5a" stroke-width="0.7" fill="none" opacity="0.850"/>
<path d="M1465.6 920.5 Q1463.8 897.0 1456.6 881.3" stroke="#8a9a60" stroke-width="1.5" fill="none" opacity="0.850"/>
<path d="M1418.9 945.8 Q1417.5 922.9 1412.2 907.5" stroke="#456b2c" stroke-width="1.4" fill="none" opacity="0.850"/>
<path d="M1466.7 922.5 Q1465.8 906.7 1462.2 896.3" stroke="#8a9a60" stroke-width="1.0" fill="none" opacity="0.850"/>
<path d="M1388.4 905.0 Q1386.1 893.5 1377.0 885.9" stroke="#5f8f3f" stroke-width="1.4" fill="none" opacity="0.850"/>
<path d="M1430.6 907.5 Q1429.1 889.7 1422.9 877.8" stroke="#9cc27a" stroke-width="1.4" fill="none" opacity="0.850"/>
<path d="M1433.9 946.9 Q1433.0 924.7 1429.0 909.8" stroke="#7fae5a" stroke-width="1.5" fill="none" opacity="0.850"/>
<path d="M1426.7 907.4 Q1424.6 883.7 1416.0 867.9" stroke="#cfe0b5" stroke-width="0.7" fill="none" opacity="0.850"/>
<path d="M1444.9 947.8 Q1442.7 930.6 1434.1 919.1" stroke="#7fae5a" stroke-width="1.1" fill="none" opacity="0.850"/>
<path d="M1475.4 930.8 Q1475.5 916.5 1475.8 906.9" stroke="#b5d197" stroke-width="0.9" fill="none" opacity="0.850"/>
<path d="M1442.9 966.1 Q1444.6 949.9 1451.6 939.0" stroke="#cfe0b5" stroke-width="0.7" fill="none" opacity="0.850"/>
<path d="M1411.4 961.6 Q1410.3 940.1 1406.0 925.7" stroke="#cfe0b5" stroke-width="1.4" fill="none" opacity="0.850"/>
<path d="M1437.1 936.0 Q1438.5 920.4 1443.9 910.1" stroke="#7fae5a" stroke-width="1.0" fill="none" opacity="0.850"/>
<path d="M1420.8 951.1 Q1421.3 938.7 1423.5 930.4" stroke="#456b2c" stroke-width="1.2" fill="none" opacity="0.850"/>
<path d="M1452.0 907.4 Q1449.9 879.8 1441.7 861.5" stroke="#b5d197" stroke-width="1.2" fill="none" opacity="0.850"/>
<path d="M1451.1 918.5 Q1452.0 899.9 1456.0 887.5" stroke="#8a9a60" stroke-width="1.2" fill="none" opacity="0.850"/>
<path d="M1392.1 941.8 Q1391.3 926.8 1388.1 916.7" stroke="#9cc27a" stroke-width="1.1" fill="none" opacity="0.850"/>
<path d="M1435.3 914.9 Q1435.8 903.7 1437.5 896.2" stroke="#456b2c" stroke-width="1.2" fill="none" opacity="0.850"/>
<path d="M1428.9 962.9 Q1427.7 936.7 1422.8 919.2" stroke="#7fae5a" stroke-width="0.7" fill="none" opacity="0.850"/>
<path d="M1409.7 937.7 Q1409.0 922.0 1406.1 911.5" stroke="#8a9a60" stroke-width="0.7" fill="none" opacity="0.850"/>
<path d="M1444.9 954.5 Q1442.1 931.5 1430.9 916.1" stroke="#b5d197" stroke-width="0.9" fill="none" opacity="0.850"/>
<path d="M1463.9 947.6 Q1465.8 929.7 1473.3 917.8" stroke="#5f8f3f" stroke-width="1.0" fill="none" opacity="0.850"/>
<path d="M1469.8 937.7 Q1470.9 921.4 1475.1 910.6" stroke="#8a9a60" stroke-width="1.3" fill="none" opacity="0.850"/>
<path d="M1397.3 935.6 Q1398.9 924.8 1405.4 917.6" stroke="#8a9a60" stroke-width="1.0" fill="none" opacity="0.850"/>
<path d="M1417.8 916.4 Q1420.5 905.5 1431.0 898.3" stroke="#5f8f3f" stroke-width="0.8" fill="none" opacity="0.850"/>
<path d="M1475.5 961.4 Q1477.4 946.6 1484.8 936.7" stroke="#5f8f3f" stroke-width="0.7" fill="none" opacity="0.850"/>
<path d="M1422.1 962.2 Q1424.4 940.5 1433.9 926.1" stroke="#b5d197" stroke-width="1.2" fill="none" opacity="0.850"/>
<path d="M1437.8 953.5 Q1437.5 934.3 1436.0 921.4" stroke="#7fae5a" stroke-width="0.8" fill="none" opacity="0.850"/>
<path d="M1391.0 940.1 Q1392.7 920.1 1399.5 906.7" stroke="#8a9a60" stroke-width="1.2" fill="none" opacity="0.850"/>
<path d="M1387.9 918.8 Q1385.9 893.8 1378.0 877.2" stroke="#9cc27a" stroke-width="1.0" fill="none" opacity="0.850"/>
<path d="M1400.2 913.7 Q1402.4 900.0 1411.1 890.8" stroke="#8a9a60" stroke-width="1.0" fill="none" opacity="0.850"/>
<path d="M1409.8 905.4 Q1410.9 881.6 1415.3 865.8" stroke="#cfe0b5" stroke-width="1.2" fill="none" opacity="0.850"/>
<path d="M1462.1 944.2 Q1464.1 921.4 1472.0 906.2" stroke="#cfe0b5" stroke-width="0.8" fill="none" opacity="0.850"/>
<path d="M1444.5 932.0 Q1447.2 912.7 1457.6 899.9" stroke="#5f8f3f" stroke-width="0.9" fill="none" opacity="0.850"/>
<path d="M1391.6 926.6 Q1390.0 914.3 1383.8 906.1" stroke="#9cc27a" stroke-width="0.6" fill="none" opacity="0.850"/>
<path d="M1387.6 913.5 Q1387.0 888.1 1384.5 871.1" stroke="#8a9a60" stroke-width="1.5" fill="none" opacity="0.850"/>
<path d="M1467.9 949.6 Q1467.3 935.2 1465.1 925.5" stroke="#456b2c" stroke-width="0.7" fill="none" opacity="0.850"/>
</g>
<ellipse cx="1429.400" cy="920.400" rx="46.800" ry="44.100" fill="none" stroke="#111" stroke-width="2.200"/>
<circle cx="1357.500" cy="991.600" r="52.500" fill="#ffffff"/>
<circle cx="1357.500" cy="991.600" r="45.300" fill="#c9b92f"/>
<defs><clipPath id="bc3b"><circle cx="720" cy="745" r="252"/></clipPath><linearGradient id="fieldg" x1="0" x2="0" y1="0" y2="1"><stop offset="0" stop-color="#cfe3b4"/><stop offset="1" stop-color="#9cc070"/></linearGradient></defs>
<g transform="translate(1240,870) scale(0.16319)"><g clip-path="url(#bc3b)">
<rect x="450" y="480" width="540" height="130" fill="#6fb0dc"/>
<ellipse cx="820" cy="512" rx="80" ry="14" fill="#e8f2f8"/>
<path d="M450 590 Q560 520 680 515 Q800 510 880 560 Q930 570 990 585 V610 H450 Z" fill="#4a86a8"/>
<rect x="450" y="588" width="540" height="22" fill="#3f7a3a"/>
<ellipse cx="660" cy="582" rx="14" ry="12" fill="#2f5f2c"/><ellipse cx="850" cy="590" rx="60" ry="8" fill="#356b30"/>
<rect x="450" y="606" width="540" height="420" fill="url(#fieldg)"/>
<path d="M640 625 L652 625 Q720 720 800 800 Q860 870 930 940 L900 1020 L610 1020 Q650 900 690 800 Q660 700 640 625 Z" fill="#b4531f"/>
<path d="M612 614 Q560 650 505 720 Q480 780 482 860 L450 860 L450 700 Q520 640 595 612 Z" fill="#ba5a24"/>
<path d="M700 820 Q760 900 800 1000 L700 1010 Q720 900 700 820 Z" fill="#a03c14" opacity="0.600"/>
<path d="M533 963 Q533 954 533 950" stroke="#a9cf80" stroke-width="3.6" fill="none"/>
<path d="M829 801 Q826 778 815 768" stroke="#8fbb62" stroke-width="2.4" fill="none"/>
<path d="M530 965 Q524 920 501 900" stroke="#ffffff" stroke-width="5.0" fill="none"/>
<path d="M852 665 Q853 658 856 654" stroke="#ffffff" stroke-width="3.0" fill="none"/>
<path d="M927 926 Q926 887 921 871" stroke="#6f9c4c" stroke-width="6.4" fill="none"/>
<path d="M565 971 Q559 929 535 911" stroke="#dcebc4" stroke-width="7.1" fill="none"/>
<path d="M533 717 Q535 700 544 693" stroke="#a9cf80" stroke-width="1.8" fill="none"/>
<path d="M861 702 Q860 684 856 677" stroke="#eef5e0" stroke-width="2.0" fill="none"/>
<path d="M942 820 Q942 800 943 791" stroke="#8fbb62" stroke-width="3.7" fill="none"/>
<path d="M669 874 Q670 864 673 860" stroke="#8fbb62" stroke-width="6.2" fill="none"/>
<path d="M838 641 Q839 635 842 633" stroke="#8fbb62" stroke-width="2.6" fill="none"/>
<path d="M847 849 Q850 842 865 838" stroke="#dcebc4" stroke-width="5.9" fill="none"/>
<path d="M584 863 Q583 855 577 851" stroke="#ffffff" stroke-width="4.5" fill="none"/>
<path d="M915 668 Q915 653 912 646" stroke="#8fbb62" stroke-width="2.2" fill="none"/>
<path d="M978 849 Q981 842 992 839" stroke="#6f9c4c" stroke-width="2.6" fill="none"/>
<path d="M519 711 Q521 703 528 699" stroke="#6f9c4c" stroke-width="3.2" fill="none"/>
<path d="M514 931 Q517 921 531 918" stroke="#dcebc4" stroke-width="5.1" fill="none"/>
<path d="M832 722 Q832 704 830 697" stroke="#8fbb62" stroke-width="2.0" fill="none"/>
<path d="M859 824 Q860 793 862 780" stroke="#8fbb62" stroke-width="4.6" fill="none"/>
<path d="M550 954 Q544 936 521 928" stroke="#8fbb62" stroke-width="4.4" fill="none"/>
<path d="M546 672 Q544 666 535 664" stroke="#dcebc4" stroke-width="1.9" fill="none"/>
<path d="M664 864 Q663 829 657 814" stroke="#8fbb62" stroke-width="4.4" fill="none"/>
<path d="M606 1000 Q603 961 592 944" stroke="#eef5e0" stroke-width="3.8" fill="none"/>
<path d="M861 774 Q859 750 848 739" stroke="#ffffff" stroke-width="2.9" fill="none"/>
<path d="M643 985 Q638 965 618 956" stroke="#ffffff" stroke-width="7.2" fill="none"/>
<path d="M545 933 Q542 895 527 879" stroke="#dcebc4" stroke-width="5.0" fill="none"/>
<path d="M754 776 Q753 767 753 763" stroke="#6f9c4c" stroke-width="3.7" fill="none"/>
<path d="M954 636 Q956 623 962 617" stroke="#a9cf80" stroke-width="1.8" fill="none"/>
<path d="M878 967 Q884 937 908 924" stroke="#eef5e0" stroke-width="6.5" fill="none"/>
<path d="M838 665 Q838 653 837 647" stroke="#dcebc4" stroke-width="3.2" fill="none"/>
<path d="M842 890 Q839 881 828 878" stroke="#dcebc4" stroke-width="3.7" fill="none"/>
<path d="M892 910 Q896 881 914 869" stroke="#eef5e0" stroke-width="5.4" fill="none"/>
<path d="M675 855 Q670 845 652 841" stroke="#8fbb62" stroke-width="2.9" fill="none"/>
<path d="M476 869 Q475 846 474 836" stroke="#ffffff" stroke-width="5.5" fill="none"/>
<path d="M635 930 Q641 922 663 918" stroke="#a9cf80" stroke-width="3.7" fill="none"/>
<path d="M663 812 Q666 802 680 798" stroke="#ffffff" stroke-width="3.1" fill="none"/>
<path d="M869 700 Q867 692 858 689" stroke="#eef5e0" stroke-width="1.8" fill="none"/>
<path d="M799 657 Q797 653 788 651" stroke="#ffffff" stroke-width="2.4" fill="none"/>
<path d="M654 873 Q651 858 641 852" stroke="#a9cf80" stroke-width="5.2" fill="none"/>
<path d="M932 810 Q935 797 948 791" stroke="#ffffff" stroke-width="2.5" fill="none"/>
<path d="M604 742 Q608 722 621 713" stroke="#dcebc4" stroke-width="4.3" fill="none"/>
<path d="M920 984 Q915 938 893 918" stroke="#6f9c4c" stroke-width="5.4" fill="none"/>
<path d="M929 793 Q927 785 920 782" stroke="#dcebc4" stroke-width="4.0" fill="none"/>
<path d="M758 797 Q758 786 754 782" stroke="#6f9c4c" stroke-width="2.5" fill="none"/>
<path d="M627 635 Q626 630 624 628" stroke="#8fbb62" stroke-width="2.9" fill="none"/>
<path d="M505 1005 Q507 957 512 937" stroke="#ffffff" stroke-width="7.0" fill="none"/>
<path d="M571 836 Q566 821 548 814" stroke="#a9cf80" stroke-width="3.9" fill="none"/>
<path d="M579 909 Q583 876 596 862" stroke="#a9cf80" stroke-width="3.3" fill="none"/>
<path d="M836 736 Q834 721 822 715" stroke="#eef5e0" stroke-width="4.4" fill="none"/>
<path d="M625 661 Q626 653 630 650" stroke="#a9cf80" stroke-width="3.0" fill="none"/>
<path d="M982 878 Q987 859 1003 851" stroke="#a9cf80" stroke-width="6.0" fill="none"/>
<path d="M727 764 Q725 739 716 729" stroke="#dcebc4" stroke-width="3.6" fill="none"/>
<path d="M880 928 Q876 914 860 908" stroke="#6f9c4c" stroke-width="5.9" fill="none"/>
<path d="M915 889 Q917 854 928 839" stroke="#6f9c4c" stroke-width="3.9" fill="none"/>
<path d="M982 695 Q983 689 987 686" stroke="#ffffff" stroke-width="2.9" fill="none"/>
<path d="M869 886 Q865 875 849 871" stroke="#8fbb62" stroke-width="5.6" fill="none"/>
<path d="M531 790 Q533 772 544 765" stroke="#a9cf80" stroke-width="3.5" fill="none"/>
<path d="M905 1015 Q908 967 920 946" stroke="#dcebc4" stroke-width="5.4" fill="none"/>
<path d="M656 936 Q655 898 652 881" stroke="#ffffff" stroke-width="7.1" fill="none"/>
<path d="M966 658 Q968 650 975 647" stroke="#dcebc4" stroke-width="3.2" fill="none"/>
<path d="M558 832 Q558 801 560 788" stroke="#ffffff" stroke-width="3.2" fill="none"/>
<path d="M984 636 Q984 625 986 621" stroke="#8fbb62" stroke-width="2.4" fill="none"/>
<path d="M638 901 Q637 883 632 875" stroke="#eef5e0" stroke-width="4.5" fill="none"/>
<path d="M869 802 Q865 773 850 761" stroke="#8fbb62" stroke-width="4.9" fill="none"/>
<path d="M924 902 Q927 874 940 862" stroke="#a9cf80" stroke-width="4.4" fill="none"/>
<path d="M857 970 Q862 942 879 931" stroke="#eef5e0" stroke-width="7.6" fill="none"/>
<path d="M713 696 Q714 678 717 671" stroke="#eef5e0" stroke-width="2.8" fill="none"/>
<path d="M722 727 Q723 716 730 711" stroke="#6f9c4c" stroke-width="3.1" fill="none"/>
<path d="M984 913 Q984 884 982 871" stroke="#eef5e0" stroke-width="3.8" fill="none"/>
<path d="M525 746 Q523 737 514 733" stroke="#ffffff" stroke-width="3.0" fill="none"/>
<path d="M603 993 Q604 970 607 960" stroke="#8fbb62" stroke-width="6.0" fill="none"/>
<path d="M475 914 Q470 899 449 893" stroke="#eef5e0" stroke-width="4.0" fill="none"/>
<path d="M924 796 Q926 782 935 776" stroke="#eef5e0" stroke-width="2.5" fill="none"/>
<path d="M553 719 Q553 712 555 709" stroke="#dcebc4" stroke-width="2.6" fill="none"/>
<path d="M643 826 Q639 797 622 784" stroke="#a9cf80" stroke-width="3.5" fill="none"/>
<path d="M879 833 Q875 807 860 795" stroke="#6f9c4c" stroke-width="5.2" fill="none"/>
<path d="M817 712 Q817 703 816 700" stroke="#eef5e0" stroke-width="4.0" fill="none"/>
<path d="M884 823 Q880 798 864 788" stroke="#eef5e0" stroke-width="5.0" fill="none"/>
<path d="M798 790 Q798 784 796 781" stroke="#dcebc4" stroke-width="3.0" fill="none"/>
<path d="M562 853 Q562 819 561 804" stroke="#a9cf80" stroke-width="2.7" fill="none"/>
<path d="M613 628 Q614 624 615 623" stroke="#8fbb62" stroke-width="1.9" fill="none"/>
<path d="M514 822 Q517 799 531 788" stroke="#eef5e0" stroke-width="4.1" fill="none"/>
<path d="M808 681 Q810 667 818 661" stroke="#8fbb62" stroke-width="2.2" fill="none"/>
<path d="M609 910 Q609 876 610 861" stroke="#6f9c4c" stroke-width="6.8" fill="none"/>
<path d="M491 832 Q494 807 506 796" stroke="#eef5e0" stroke-width="3.8" fill="none"/>
<path d="M868 907 Q868 897 867 893" stroke="#a9cf80" stroke-width="6.7" fill="none"/>
<path d="M721 670 Q722 660 726 656" stroke="#dcebc4" stroke-width="2.9" fill="none"/>
<path d="M502 1001 Q506 964 520 948" stroke="#8fbb62" stroke-width="4.8" fill="none"/>
<path d="M903 754 Q906 734 917 725" stroke="#6f9c4c" stroke-width="2.9" fill="none"/>
<path d="M552 896 Q555 879 564 871" stroke="#6f9c4c" stroke-width="4.7" fill="none"/>
<path d="M923 752 Q926 733 937 725" stroke="#a9cf80" stroke-width="2.7" fill="none"/>
<path d="M877 862 Q873 832 855 819" stroke="#dcebc4" stroke-width="3.5" fill="none"/>
<path d="M614 772 Q618 755 633 748" stroke="#8fbb62" stroke-width="4.4" fill="none"/>
<path d="M924 849 Q926 840 937 836" stroke="#6f9c4c" stroke-width="2.6" fill="none"/>
<path d="M927 928 Q923 905 907 895" stroke="#eef5e0" stroke-width="4.2" fill="none"/>
<path d="M977 672 Q976 657 969 650" stroke="#ffffff" stroke-width="2.2" fill="none"/>
<path d="M577 901 Q580 863 591 846" stroke="#dcebc4" stroke-width="5.1" fill="none"/>
<path d="M562 1002 Q561 966 559 950" stroke="#dcebc4" stroke-width="6.8" fill="none"/>
<path d="M594 1010 Q589 971 571 955" stroke="#eef5e0" stroke-width="6.5" fill="none"/>
<path d="M660 803 Q657 794 644 790" stroke="#a9cf80" stroke-width="3.5" fill="none"/>
<path d="M531 756 Q530 735 526 725" stroke="#ffffff" stroke-width="2.2" fill="none"/>
<path d="M505 767 Q504 752 500 745" stroke="#8fbb62" stroke-width="3.9" fill="none"/>
<path d="M820 758 Q818 745 812 740" stroke="#8fbb62" stroke-width="2.7" fill="none"/>
<path d="M544 945 Q541 932 528 926" stroke="#8fbb62" stroke-width="6.6" fill="none"/>
<path d="M469 895 Q471 868 476 857" stroke="#dcebc4" stroke-width="3.4" fill="none"/>
<path d="M835 894 Q835 868 834 857" stroke="#dcebc4" stroke-width="3.4" fill="none"/>
<path d="M516 822 Q517 812 518 808" stroke="#eef5e0" stroke-width="3.6" fill="none"/>
<path d="M928 846 Q929 822 935 811" stroke="#eef5e0" stroke-width="3.3" fill="none"/>
<path d="M547 882 Q550 864 565 856" stroke="#8fbb62" stroke-width="3.4" fill="none"/>
<path d="M637 632 Q636 627 629 625" stroke="#eef5e0" stroke-width="2.5" fill="none"/>
<path d="M832 908 Q836 899 853 896" stroke="#ffffff" stroke-width="3.1" fill="none"/>
<path d="M842 699 Q843 682 846 675" stroke="#a9cf80" stroke-width="1.8" fill="none"/>
<path d="M813 825 Q809 816 794 812" stroke="#6f9c4c" stroke-width="2.6" fill="none"/>
<path d="M896 697 Q895 684 890 679" stroke="#6f9c4c" stroke-width="1.9" fill="none"/>
<path d="M935 972 Q932 934 919 918" stroke="#eef5e0" stroke-width="3.5" fill="none"/>
<path d="M862 897 Q866 860 885 844" stroke="#a9cf80" stroke-width="3.8" fill="none"/>
<path d="M463 877 Q459 849 443 837" stroke="#8fbb62" stroke-width="5.2" fill="none"/>
<path d="M756 804 Q761 787 778 780" stroke="#a9cf80" stroke-width="3.7" fill="none"/>
<path d="M720 702 Q719 682 718 673" stroke="#dcebc4" stroke-width="3.0" fill="none"/>
<path d="M534 687 Q534 682 531 679" stroke="#8fbb62" stroke-width="2.3" fill="none"/>
<path d="M531 946 Q528 935 516 930" stroke="#6f9c4c" stroke-width="3.7" fill="none"/>
<path d="M605 786 Q609 759 624 747" stroke="#8fbb62" stroke-width="3.0" fill="none"/>
<path d="M668 1013 Q665 967 657 947" stroke="#8fbb62" stroke-width="3.9" fill="none"/>
<path d="M840 856 Q845 847 862 843" stroke="#dcebc4" stroke-width="4.8" fill="none"/>
<path d="M834 860 Q833 853 826 850" stroke="#ffffff" stroke-width="6.0" fill="none"/>
<path d="M594 1000 Q593 960 591 943" stroke="#eef5e0" stroke-width="4.8" fill="none"/>
<path d="M939 780 Q935 770 923 766" stroke="#eef5e0" stroke-width="4.0" fill="none"/>
<path d="M518 860 Q516 827 508 813" stroke="#8fbb62" stroke-width="2.7" fill="none"/>
<path d="M709 686 Q710 680 715 677" stroke="#dcebc4" stroke-width="2.4" fill="none"/>
<path d="M614 841 Q616 833 624 830" stroke="#ffffff" stroke-width="3.9" fill="none"/>
<path d="M803 814 Q801 800 792 794" stroke="#dcebc4" stroke-width="5.5" fill="none"/>
<path d="M837 857 Q836 848 833 845" stroke="#ffffff" stroke-width="5.0" fill="none"/>
<path d="M946 998 Q945 974 938 964" stroke="#a9cf80" stroke-width="7.4" fill="none"/>
<path d="M921 670 Q920 662 919 659" stroke="#6f9c4c" stroke-width="2.1" fill="none"/>
<path d="M759 698 Q760 691 764 688" stroke="#dcebc4" stroke-width="2.9" fill="none"/>
<path d="M746 696 Q748 691 753 689" stroke="#dcebc4" stroke-width="2.4" fill="none"/>
<path d="M565 665 Q565 653 567 648" stroke="#6f9c4c" stroke-width="2.7" fill="none"/>
<path d="M937 984 Q932 968 912 961" stroke="#8fbb62" stroke-width="7.5" fill="none"/>
<path d="M471 995 Q467 978 452 970" stroke="#ffffff" stroke-width="6.6" fill="none"/>
<path d="M804 778 Q803 752 797 740" stroke="#eef5e0" stroke-width="3.2" fill="none"/>
<path d="M840 731 Q840 722 840 718" stroke="#dcebc4" stroke-width="2.4" fill="none"/>
<path d="M651 734 Q647 714 634 705" stroke="#6f9c4c" stroke-width="2.1" fill="none"/>
<path d="M916 859 Q912 825 896 810" stroke="#6f9c4c" stroke-width="3.4" fill="none"/>
<path d="M729 637 Q728 625 728 620" stroke="#ffffff" stroke-width="2.4" fill="none"/>
<path d="M700 1006 Q698 962 691 943" stroke="#8fbb62" stroke-width="6.0" fill="none"/>
<path d="M487 834 Q488 814 492 805" stroke="#eef5e0" stroke-width="5.0" fill="none"/>
<path d="M639 754 Q642 747 655 744" stroke="#ffffff" stroke-width="2.4" fill="none"/>
<path d="M819 647 Q818 637 813 632" stroke="#a9cf80" stroke-width="1.8" fill="none"/>
<path d="M980 988 Q983 941 995 921" stroke="#8fbb62" stroke-width="3.7" fill="none"/>
<path d="M584 801 Q580 777 564 767" stroke="#8fbb62" stroke-width="5.0" fill="none"/>
<path d="M954 660 Q954 654 955 651" stroke="#dcebc4" stroke-width="1.9" fill="none"/>
<path d="M848 969 Q850 960 855 955" stroke="#dcebc4" stroke-width="6.7" fill="none"/>
<path d="M524 910 Q520 878 504 864" stroke="#ffffff" stroke-width="3.9" fill="none"/>
<path d="M884 1006 Q881 994 871 989" stroke="#8fbb62" stroke-width="5.8" fill="none"/>
<path d="M769 628 Q771 620 777 617" stroke="#6f9c4c" stroke-width="2.4" fill="none"/>
<path d="M680 912 Q682 893 691 884" stroke="#6f9c4c" stroke-width="6.9" fill="none"/>
<path d="M634 765 Q636 756 646 752" stroke="#a9cf80" stroke-width="2.4" fill="none"/>
<path d="M541 802 Q539 788 529 782" stroke="#ffffff" stroke-width="2.5" fill="none"/>
<path d="M717 686 Q719 675 726 670" stroke="#dcebc4" stroke-width="3.2" fill="none"/>
<path d="M587 709 Q588 690 594 682" stroke="#8fbb62" stroke-width="2.8" fill="none"/>
<path d="M478 927 Q476 886 468 869" stroke="#ffffff" stroke-width="5.9" fill="none"/>
<path d="M507 1004 Q507 992 506 987" stroke="#ffffff" stroke-width="6.7" fill="none"/>
<path d="M949 891 Q954 869 975 859" stroke="#ffffff" stroke-width="4.0" fill="none"/>
<path d="M843 900 Q843 888 845 883" stroke="#dcebc4" stroke-width="6.3" fill="none"/>
<path d="M537 830 Q532 799 515 786" stroke="#ffffff" stroke-width="5.4" fill="none"/>
<path d="M543 925 Q547 916 566 912" stroke="#dcebc4" stroke-width="6.3" fill="none"/>
<path d="M538 731 Q534 717 521 710" stroke="#dcebc4" stroke-width="2.3" fill="none"/>
<path d="M539 935 Q540 919 544 911" stroke="#ffffff" stroke-width="5.5" fill="none"/>
<path d="M742 628 Q743 620 749 617" stroke="#ffffff" stroke-width="1.4" fill="none"/>
<path d="M636 802 Q639 795 652 792" stroke="#8fbb62" stroke-width="5.2" fill="none"/>
<path d="M940 952 Q942 932 950 924" stroke="#6f9c4c" stroke-width="3.2" fill="none"/>
<path d="M499 1010 Q504 996 528 990" stroke="#dcebc4" stroke-width="4.5" fill="none"/>
<path d="M933 699 Q935 690 941 686" stroke="#dcebc4" stroke-width="3.5" fill="none"/>
<path d="M642 947 Q646 921 665 909" stroke="#a9cf80" stroke-width="7.3" fill="none"/>
<path d="M838 783 Q840 760 846 751" stroke="#8fbb62" stroke-width="3.9" fill="none"/>
<path d="M815 731 Q814 709 812 700" stroke="#a9cf80" stroke-width="3.7" fill="none"/>
<path d="M552 803 Q551 794 547 791" stroke="#8fbb62" stroke-width="4.0" fill="none"/>
<path d="M637 763 Q634 752 622 747" stroke="#dcebc4" stroke-width="3.8" fill="none"/>
<path d="M972 927 Q978 903 1000 893" stroke="#8fbb62" stroke-width="5.9" fill="none"/>
<path d="M915 1004 Q922 962 948 944" stroke="#a9cf80" stroke-width="6.7" fill="none"/>
<path d="M646 805 Q643 793 632 789" stroke="#a9cf80" stroke-width="3.3" fill="none"/>
<path d="M683 969 Q681 941 676 929" stroke="#a9cf80" stroke-width="7.2" fill="none"/>
<path d="M667 888 Q663 851 645 836" stroke="#6f9c4c" stroke-width="5.4" fill="none"/>
<path d="M691 640 Q690 632 684 628" stroke="#8fbb62" stroke-width="2.0" fill="none"/>
<path d="M814 902 Q814 867 816 852" stroke="#a9cf80" stroke-width="4.3" fill="none"/>
<path d="M963 698 Q962 688 956 684" stroke="#a9cf80" stroke-width="1.9" fill="none"/>
<path d="M937 885 Q933 852 916 838" stroke="#ffffff" stroke-width="5.6" fill="none"/>
<path d="M893 781 Q894 765 896 759" stroke="#8fbb62" stroke-width="3.2" fill="none"/>
<path d="M605 629 Q604 621 597 617" stroke="#6f9c4c" stroke-width="2.5" fill="none"/>
<path d="M555 725 Q553 717 543 713" stroke="#a9cf80" stroke-width="3.1" fill="none"/>
<path d="M729 701 Q729 693 728 690" stroke="#eef5e0" stroke-width="3.5" fill="none"/>
<path d="M748 756 Q746 738 734 730" stroke="#dcebc4" stroke-width="4.2" fill="none"/>
<path d="M898 639 Q899 626 901 621" stroke="#eef5e0" stroke-width="1.8" fill="none"/>
<path d="M759 637 Q758 632 757 629" stroke="#ffffff" stroke-width="1.4" fill="none"/>
<path d="M669 928 Q670 907 672 898" stroke="#eef5e0" stroke-width="6.5" fill="none"/>
<path d="M876 885 Q875 859 870 847" stroke="#a9cf80" stroke-width="3.7" fill="none"/>
<path d="M853 820 Q852 796 849 786" stroke="#eef5e0" stroke-width="4.5" fill="none"/>
<path d="M911 821 Q911 805 914 798" stroke="#8fbb62" stroke-width="5.2" fill="none"/>
<path d="M586 743 Q586 729 584 723" stroke="#a9cf80" stroke-width="3.4" fill="none"/>
<path d="M947 860 Q944 842 929 835" stroke="#a9cf80" stroke-width="4.5" fill="none"/>
<path d="M843 638 Q842 635 841 634" stroke="#8fbb62" stroke-width="2.4" fill="none"/>
<path d="M521 644 Q520 633 516 628" stroke="#6f9c4c" stroke-width="1.7" fill="none"/>
<path d="M758 676 Q759 665 763 660" stroke="#ffffff" stroke-width="2.1" fill="none"/>
<path d="M484 983 Q485 965 491 958" stroke="#8fbb62" stroke-width="6.5" fill="none"/>
<path d="M957 728 Q959 719 968 714" stroke="#eef5e0" stroke-width="3.4" fill="none"/>
<path d="M522 840 Q526 829 541 825" stroke="#8fbb62" stroke-width="5.4" fill="none"/>
<path d="M776 734 Q779 712 791 703" stroke="#ffffff" stroke-width="2.2" fill="none"/>
<path d="M656 797 Q660 778 675 770" stroke="#dcebc4" stroke-width="2.4" fill="none"/>
<path d="M523 954 Q525 933 537 924" stroke="#6f9c4c" stroke-width="6.0" fill="none"/>
<path d="M506 1015 Q509 990 518 979" stroke="#eef5e0" stroke-width="4.7" fill="none"/>
<path d="M501 952 Q504 924 518 912" stroke="#ffffff" stroke-width="4.3" fill="none"/>
<path d="M762 798 Q759 786 747 781" stroke="#eef5e0" stroke-width="3.9" fill="none"/>
<path d="M776 755 Q778 733 785 723" stroke="#dcebc4" stroke-width="4.6" fill="none"/>
<path d="M870 839 Q867 819 855 810" stroke="#dcebc4" stroke-width="3.3" fill="none"/>
</g></g>
<!-- ===== trees, sun, sun rays, labels ===== -->
<defs>
<linearGradient id="treeg" x1="0" x2="0" y1="0" y2="1"><stop offset="0" stop-color="#c3d830"/><stop offset="0.350" stop-color="#6cc04a"/><stop offset="1" stop-color="#2b8a3e"/></linearGradient>
<linearGradient id="trunk" x1="0" x2="1" y1="0" y2="0"><stop offset="0" stop-color="#a06a35"/><stop offset="1" stop-color="#6e4520"/></linearGradient>
<g id="tree1">
<rect x="-5" y="72" width="10" height="26" rx="2" fill="url(#trunk)"/>
<path d="M0 0 Q6 12 22 20 Q28 24 34 23 Q30 28 22 28 Q18 30 14 28 Q24 40 40 47 Q36 52 28 51 Q24 54 18 52 Q28 64 46 72 Q40 78 32 76 Q24 82 16 78 Q8 84 0 80 Q-8 84 -16 78 Q-24 82 -32 76 Q-40 78 -46 72 Q-28 64 -18 52 Q-24 54 -28 51 Q-36 52 -40 47 Q-24 40 -14 28 Q-18 30 -22 28 Q-30 28 -34 23 Q-28 24 -22 20 Q-6 12 0 0 Z" fill="url(#treeg)"/>
</g>
</defs>
<use href="#tree1" transform="translate(760.400,821.500) scale(0.980,0.960)"/>
<use href="#tree1" transform="translate(857.400,822) scale(0.870,0.960)"/>
<use href="#tree1" transform="translate(809.200,838) scale(0.950,0.990)"/>
<text class="cal" x="702.600" y="962.200" font-size="27" textLength="210.900" lengthAdjust="spacingAndGlyphs" fill="#000">Photosynthesis</text>
<text class="serif" x="803.100" y="1068" font-size="42" font-weight="bold" textLength="215.800" lengthAdjust="spacingAndGlyphs" fill="#000">Atmosphere</text>
<!-- dotted sun rays -->
<g stroke="#ffc000" stroke-width="5.500" stroke-dasharray="5.500 5" fill="none">
<path d="M1043.300 959.300 L937 896.200"/>
<path d="M1020.300 970.800 L916.900 909.100"/>
<path d="M1020.300 993.800 L916.900 933.500"/>
</g>
<g fill="#ffc000">
<polygon points="925.500,889 944.200,890.400 934.100,904.800"/>
<polygon points="903.100,901.300 921.800,902.700 911.700,917.100"/>
<polygon points="902.500,924.900 921.200,926.300 911.100,940.700"/>
</g>
<!-- sun -->
<g transform="translate(1065.400,1005.900)">
<path d="M45.9 12.3 Q18.6 10.7 33.6 33.6 Q10.8 18.6 12.3 45.9 Q0.0 21.5 -12.3 45.9 Q-10.7 18.6 -33.6 33.6 Q-18.6 10.7 -45.9 12.3 Q-21.5 0.0 -45.9 -12.3 Q-18.6 -10.8 -33.6 -33.6 Q-10.8 -18.6 -12.3 -45.9 Q-0.0 -21.5 12.3 -45.9 Q10.8 -18.6 33.6 -33.6 Q18.6 -10.8 45.9 -12.3 Q21.5 -0.0 45.9 12.3 Z" fill="#ff8a2b"/>
<circle r="28.900" fill="#ffd42a"/>
</g>
<!-- ===== CCU / CCS word art ===== -->
<defs>
<linearGradient id="metal" x1="0" x2="0" y1="0" y2="1"><stop offset="0" stop-color="#8a8a8a"/><stop offset="0.500" stop-color="#a9a9a9"/><stop offset="1" stop-color="#e6e6e6"/></linearGradient>
<filter id="blur1" x="-20%" y="-30%" width="140%" height="160%"><feGaussianBlur stdDeviation="1.200"/></filter>
</defs>
<g transform="translate(556.200,417.200) rotate(-32.500)" class="sans" font-weight="bold" font-size="45" text-anchor="middle" stroke-linejoin="round">
<text x="1.500" y="18" textLength="82" lengthAdjust="spacingAndGlyphs" fill="#9fb0b8" stroke="#9fb0b8" stroke-width="5" opacity="0.600" filter="url(#blur1)">CCU</text>
<text x="0" y="16" textLength="82" lengthAdjust="spacingAndGlyphs" fill="#d22020" stroke="#d22020" stroke-width="5.400">CCU</text>
<text x="0" y="16" textLength="82" lengthAdjust="spacingAndGlyphs" fill="#f9d4d4" stroke="#f9d4d4" stroke-width="3.300">CCU</text>
<text x="0" y="16" textLength="82" lengthAdjust="spacingAndGlyphs" fill="#fbe4e4" stroke="#d22020" stroke-width="1.100">CCU</text>
</g>
<g transform="translate(1026.200,298.900) rotate(-32.500)" class="sans" font-weight="bold" font-size="47" text-anchor="middle" stroke-linejoin="round">
<text x="0" y="17" textLength="72" lengthAdjust="spacingAndGlyphs" fill="#7d7d7d" stroke="#7d7d7d" stroke-width="1.900">CCS</text>
<text x="0" y="17" textLength="72" lengthAdjust="spacingAndGlyphs" fill="url(#metal)" stroke="url(#metal)" stroke-width="0.800">CCS</text>
</g>
<!-- ===== small labels ===== -->
<g class="sans" fill="#000" stroke="#000" stroke-width="0.900">
<text x="671.600" y="413.600" font-size="29" textLength="43.500" lengthAdjust="spacingAndGlyphs">CO</text>
<text x="716" y="421.500" font-size="19.500" textLength="11.500" lengthAdjust="spacingAndGlyphs">2</text>
<text x="1048" y="565.200" font-size="31.500" textLength="18" lengthAdjust="spacingAndGlyphs">H</text>
<text x="1068.500" y="574" font-size="20" textLength="12" lengthAdjust="spacingAndGlyphs">2</text>
</g>
<g class="cal" fill="#000" font-size="24.500" text-anchor="middle">
<text x="494.900" y="573.600" textLength="51.400" lengthAdjust="spacingAndGlyphs">Fuel</text>
<text x="495.500" y="607.900" textLength="123.600" lengthAdjust="spacingAndGlyphs">upgrading</text>
</g>
</svg>
</body>
</html>
